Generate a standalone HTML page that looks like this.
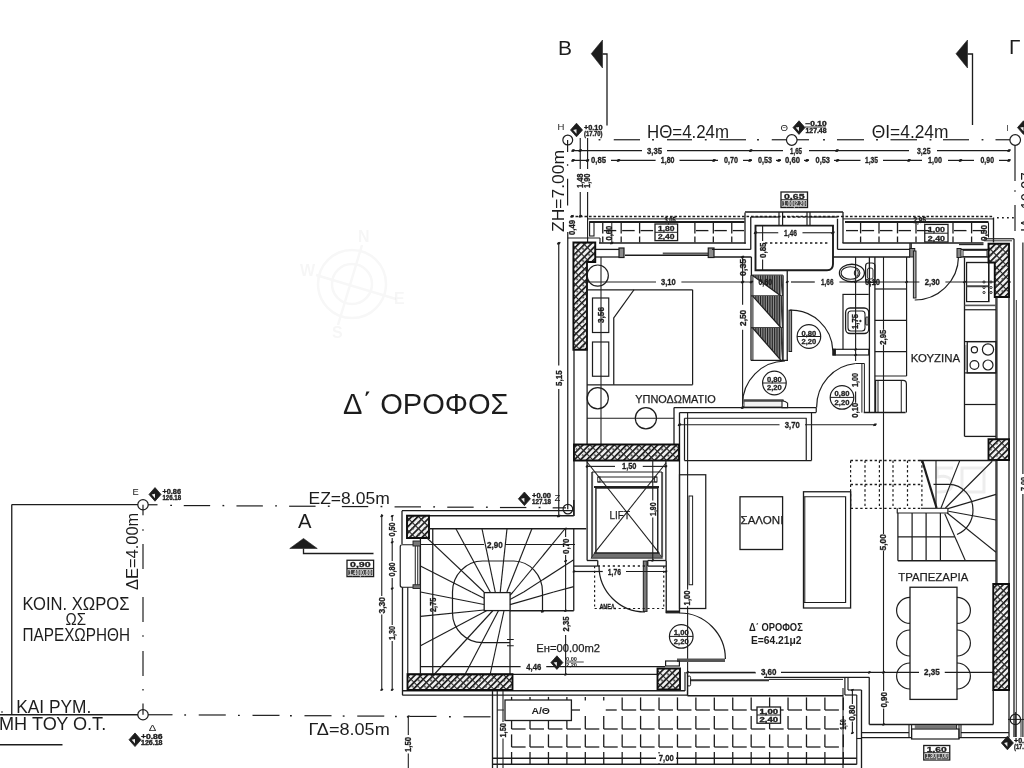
<!DOCTYPE html>
<html lang="el"><head><meta charset="utf-8"><title>Δ΄ ΟΡΟΦΟΣ</title>
<style>
html,body{margin:0;padding:0;background:#fff;}
body{width:1024px;height:768px;overflow:hidden;}
svg{display:block;font-family:"Liberation Sans","DejaVu Sans",sans-serif;}
</style></head><body>
<svg width="1024" height="768" viewBox="0 0 1024 768">
<defs>
<pattern id="hp" width="4.4" height="4.4" patternUnits="userSpaceOnUse" patternTransform="rotate(-45)">
<rect width="4.4" height="4.4" fill="#f0f0f0"/>
<rect width="4.4" height="1.65" fill="#151515"/>
</pattern>
<pattern id="hp2" width="8.6" height="8.6" patternUnits="userSpaceOnUse" patternTransform="rotate(45)">
<rect width="8.6" height="1.1" fill="#2a2a2a"/>
<rect x="2" y="3.6" width="2.6" height="1.6" fill="#444"/>
</pattern>
<filter id="soft" x="0" y="0" width="100%" height="100%"><feGaussianBlur stdDeviation="0.6"/></filter>
</defs>
<rect width="1024" height="768" fill="#fff"/>
<g filter="url(#soft)">
<polygon points="591.25,53.75 602.50,40.00 602.50,68.00" fill="#1e1e1e" stroke="#1e1e1e" stroke-width="0.6" />
<polyline points="602.50,54.00 607.00,54.00 607.00,125.60" fill="none" stroke="#1e1e1e" stroke-width="1.3" />
<polygon points="956.00,53.75 967.50,40.00 967.50,68.00" fill="#1e1e1e" stroke="#1e1e1e" stroke-width="0.6" />
<polyline points="967.50,54.00 972.50,54.00 972.50,125.00" fill="none" stroke="#1e1e1e" stroke-width="1.3" />
<text x="558.00" y="55.00" font-size="19.5" textLength="14.00" lengthAdjust="spacingAndGlyphs" fill="#1e1e1e" >B</text>
<text x="1009.00" y="53.75" font-size="20.5" textLength="11.50" lengthAdjust="spacingAndGlyphs" fill="#1e1e1e" >Γ</text>
<polygon points="289.75,548.50 303.50,538.50 317.25,548.50" fill="#1e1e1e" stroke="#1e1e1e" stroke-width="0.6" />
<polyline points="303.50,548.50 303.50,553.50 373.50,553.50" fill="none" stroke="#1e1e1e" stroke-width="1.3" />
<text x="298.00" y="527.75" font-size="21" textLength="13.50" lengthAdjust="spacingAndGlyphs" fill="#1e1e1e" >A</text>
<line x1="613.75" y1="139.75" x2="640.00" y2="139.75" stroke="#1e1e1e" stroke-width="1.2" />
<line x1="667.00" y1="139.75" x2="692.00" y2="139.75" stroke="#1e1e1e" stroke-width="1.2" />
<line x1="719.50" y1="139.75" x2="746.00" y2="139.75" stroke="#1e1e1e" stroke-width="1.2" />
<line x1="771.75" y1="139.75" x2="786.50" y2="139.75" stroke="#1e1e1e" stroke-width="1.2" />
<line x1="797.00" y1="139.75" x2="809.00" y2="139.75" stroke="#1e1e1e" stroke-width="1.2" />
<line x1="837.00" y1="139.75" x2="864.00" y2="139.75" stroke="#1e1e1e" stroke-width="1.2" />
<line x1="890.50" y1="139.75" x2="917.00" y2="139.75" stroke="#1e1e1e" stroke-width="1.2" />
<line x1="943.00" y1="139.75" x2="969.00" y2="139.75" stroke="#1e1e1e" stroke-width="1.2" />
<line x1="995.50" y1="139.75" x2="1010.00" y2="139.75" stroke="#1e1e1e" stroke-width="1.2" />
<line x1="598.60" y1="139.75" x2="600.40" y2="139.75" stroke="#1e1e1e" stroke-width="1.4" />
<line x1="652.10" y1="139.75" x2="653.90" y2="139.75" stroke="#1e1e1e" stroke-width="1.4" />
<line x1="704.85" y1="139.75" x2="706.65" y2="139.75" stroke="#1e1e1e" stroke-width="1.4" />
<line x1="757.10" y1="139.75" x2="758.90" y2="139.75" stroke="#1e1e1e" stroke-width="1.4" />
<line x1="823.10" y1="139.75" x2="824.90" y2="139.75" stroke="#1e1e1e" stroke-width="1.4" />
<line x1="876.10" y1="139.75" x2="877.90" y2="139.75" stroke="#1e1e1e" stroke-width="1.4" />
<line x1="929.60" y1="139.75" x2="931.40" y2="139.75" stroke="#1e1e1e" stroke-width="1.4" />
<line x1="981.60" y1="139.75" x2="983.40" y2="139.75" stroke="#1e1e1e" stroke-width="1.4" />
<circle cx="567.75" cy="140.00" r="4.90" fill="none" stroke="#1e1e1e" stroke-width="1.2"/>
<circle cx="791.75" cy="140.00" r="5.30" fill="none" stroke="#1e1e1e" stroke-width="1.2"/>
<circle cx="1015.20" cy="140.00" r="5.30" fill="none" stroke="#1e1e1e" stroke-width="1.2"/>
<text x="647.00" y="137.60" font-size="17.6" textLength="82.00" lengthAdjust="spacingAndGlyphs" fill="#1e1e1e" >HΘ=4.24m</text>
<text x="871.75" y="137.60" font-size="17.6" textLength="76.75" lengthAdjust="spacingAndGlyphs" fill="#1e1e1e" >ΘI=4.24m</text>
<text x="557.50" y="130.20" font-size="9.8" textLength="6.90" lengthAdjust="spacingAndGlyphs" fill="#1e1e1e" >H</text>
<text x="780.50" y="130.60" font-size="9.8" textLength="7.50" lengthAdjust="spacingAndGlyphs" fill="#1e1e1e" >Θ</text>
<text x="1006.60" y="130.80" font-size="9.8" textLength="2.20" lengthAdjust="spacingAndGlyphs" fill="#1e1e1e" >I</text>
<polygon points="570.50,130.00 576.50,123.20 582.50,130.00 576.50,136.80" fill="#1e1e1e" stroke="#1e1e1e" stroke-width="0.8" />
<polygon points="573.20,130.00 576.50,129.32 576.50,133.74" fill="#eee" stroke="none" stroke-width="0" />
<polygon points="793.00,127.60 799.00,120.80 805.00,127.60 799.00,134.40" fill="#1e1e1e" stroke="#1e1e1e" stroke-width="0.8" />
<polygon points="795.70,127.60 799.00,126.92 799.00,131.34" fill="#eee" stroke="none" stroke-width="0" />
<polygon points="1017.50,127.60 1023.50,120.80 1029.50,127.60 1023.50,134.40" fill="#1e1e1e" stroke="#1e1e1e" stroke-width="0.8" />
<polygon points="1020.20,127.60 1023.50,126.92 1023.50,131.34" fill="#eee" stroke="none" stroke-width="0" />
<text x="584.00" y="129.60" font-size="6.3" textLength="18.50" lengthAdjust="spacingAndGlyphs" fill="#1e1e1e" font-weight="bold" stroke="#1e1e1e" stroke-width="0.35">+0.10</text>
<text x="584.00" y="136.40" font-size="6.3" textLength="18.50" lengthAdjust="spacingAndGlyphs" fill="#1e1e1e" font-weight="bold" stroke="#1e1e1e" stroke-width="0.35">(17.70)</text>
<text x="805.50" y="126.40" font-size="6.3" textLength="21.00" lengthAdjust="spacingAndGlyphs" fill="#1e1e1e" font-weight="bold" stroke="#1e1e1e" stroke-width="0.35">−0.10</text>
<text x="805.50" y="132.60" font-size="6.3" textLength="21.00" lengthAdjust="spacingAndGlyphs" fill="#1e1e1e" font-weight="bold" stroke="#1e1e1e" stroke-width="0.35">127.48</text>
<line x1="805.00" y1="127.00" x2="826.00" y2="127.00" stroke="#1e1e1e" stroke-width="0.8" />
<line x1="573.00" y1="150.60" x2="642.00" y2="150.60" stroke="#1e1e1e" stroke-width="1.25" />
<line x1="667.00" y1="150.60" x2="783.00" y2="150.60" stroke="#1e1e1e" stroke-width="1.25" />
<line x1="809.00" y1="150.60" x2="909.00" y2="150.60" stroke="#1e1e1e" stroke-width="1.25" />
<line x1="937.00" y1="150.60" x2="1009.00" y2="150.60" stroke="#1e1e1e" stroke-width="1.25" />
<circle cx="573.00" cy="150.60" r="1.30" fill="#1e1e1e"/>
<line x1="571.40" y1="151.56" x2="574.60" y2="149.64" stroke="#1e1e1e" stroke-width="1.3" />
<circle cx="750.75" cy="150.60" r="1.30" fill="#1e1e1e"/>
<line x1="749.15" y1="151.56" x2="752.35" y2="149.64" stroke="#1e1e1e" stroke-width="1.3" />
<circle cx="837.00" cy="150.60" r="1.30" fill="#1e1e1e"/>
<line x1="835.40" y1="151.56" x2="838.60" y2="149.64" stroke="#1e1e1e" stroke-width="1.3" />
<circle cx="1009.00" cy="150.60" r="1.30" fill="#1e1e1e"/>
<line x1="1007.40" y1="151.56" x2="1010.60" y2="149.64" stroke="#1e1e1e" stroke-width="1.3" />
<text x="647.00" y="153.60" font-size="8.5" textLength="15.00" lengthAdjust="spacingAndGlyphs" fill="#1e1e1e" font-weight="bold" stroke="#1e1e1e" stroke-width="0.3">3,35</text>
<text x="790.00" y="153.60" font-size="8.5" textLength="12.00" lengthAdjust="spacingAndGlyphs" fill="#1e1e1e" font-weight="bold" stroke="#1e1e1e" stroke-width="0.3">1,65</text>
<text x="917.00" y="153.60" font-size="8.5" textLength="13.50" lengthAdjust="spacingAndGlyphs" fill="#1e1e1e" font-weight="bold" stroke="#1e1e1e" stroke-width="0.3">3,25</text>
<line x1="573.00" y1="160.40" x2="588.00" y2="160.40" stroke="#1e1e1e" stroke-width="1.25" />
<line x1="611.00" y1="160.40" x2="655.60" y2="160.40" stroke="#1e1e1e" stroke-width="1.25" />
<line x1="679.50" y1="160.40" x2="718.00" y2="160.40" stroke="#1e1e1e" stroke-width="1.25" />
<line x1="743.00" y1="160.40" x2="752.00" y2="160.40" stroke="#1e1e1e" stroke-width="1.25" />
<line x1="776.00" y1="160.40" x2="781.00" y2="160.40" stroke="#1e1e1e" stroke-width="1.25" />
<line x1="804.00" y1="160.40" x2="809.00" y2="160.40" stroke="#1e1e1e" stroke-width="1.25" />
<line x1="834.00" y1="160.40" x2="860.50" y2="160.40" stroke="#1e1e1e" stroke-width="1.25" />
<line x1="883.00" y1="160.40" x2="922.00" y2="160.40" stroke="#1e1e1e" stroke-width="1.25" />
<line x1="948.00" y1="160.40" x2="974.00" y2="160.40" stroke="#1e1e1e" stroke-width="1.25" />
<line x1="999.00" y1="160.40" x2="1009.00" y2="160.40" stroke="#1e1e1e" stroke-width="1.25" />
<circle cx="573.00" cy="160.40" r="1.30" fill="#1e1e1e"/>
<line x1="571.40" y1="161.36" x2="574.60" y2="159.44" stroke="#1e1e1e" stroke-width="1.3" />
<circle cx="618.50" cy="160.40" r="1.30" fill="#1e1e1e"/>
<line x1="616.90" y1="161.36" x2="620.10" y2="159.44" stroke="#1e1e1e" stroke-width="1.3" />
<circle cx="714.00" cy="160.40" r="1.30" fill="#1e1e1e"/>
<line x1="712.40" y1="161.36" x2="715.60" y2="159.44" stroke="#1e1e1e" stroke-width="1.3" />
<circle cx="750.00" cy="160.40" r="1.30" fill="#1e1e1e"/>
<line x1="748.40" y1="161.36" x2="751.60" y2="159.44" stroke="#1e1e1e" stroke-width="1.3" />
<circle cx="779.00" cy="160.40" r="1.30" fill="#1e1e1e"/>
<line x1="777.40" y1="161.36" x2="780.60" y2="159.44" stroke="#1e1e1e" stroke-width="1.3" />
<circle cx="807.00" cy="160.40" r="1.30" fill="#1e1e1e"/>
<line x1="805.40" y1="161.36" x2="808.60" y2="159.44" stroke="#1e1e1e" stroke-width="1.3" />
<circle cx="837.50" cy="160.40" r="1.30" fill="#1e1e1e"/>
<line x1="835.90" y1="161.36" x2="839.10" y2="159.44" stroke="#1e1e1e" stroke-width="1.3" />
<circle cx="909.00" cy="160.40" r="1.30" fill="#1e1e1e"/>
<line x1="907.40" y1="161.36" x2="910.60" y2="159.44" stroke="#1e1e1e" stroke-width="1.3" />
<circle cx="960.50" cy="160.40" r="1.30" fill="#1e1e1e"/>
<line x1="958.90" y1="161.36" x2="962.10" y2="159.44" stroke="#1e1e1e" stroke-width="1.3" />
<circle cx="1009.00" cy="160.40" r="1.30" fill="#1e1e1e"/>
<line x1="1007.40" y1="161.36" x2="1010.60" y2="159.44" stroke="#1e1e1e" stroke-width="1.3" />
<text x="591.00" y="163.40" font-size="8.5" textLength="15.00" lengthAdjust="spacingAndGlyphs" fill="#1e1e1e" font-weight="bold" stroke="#1e1e1e" stroke-width="0.3">0,85</text>
<text x="660.75" y="163.40" font-size="8.5" textLength="13.75" lengthAdjust="spacingAndGlyphs" fill="#1e1e1e" font-weight="bold" stroke="#1e1e1e" stroke-width="0.3">1,80</text>
<text x="724.00" y="163.40" font-size="8.5" textLength="14.00" lengthAdjust="spacingAndGlyphs" fill="#1e1e1e" font-weight="bold" stroke="#1e1e1e" stroke-width="0.3">0,70</text>
<text x="758.00" y="163.40" font-size="8.5" textLength="14.00" lengthAdjust="spacingAndGlyphs" fill="#1e1e1e" font-weight="bold" stroke="#1e1e1e" stroke-width="0.3">0,53</text>
<text x="785.00" y="163.40" font-size="8.5" textLength="15.00" lengthAdjust="spacingAndGlyphs" fill="#1e1e1e" font-weight="bold" stroke="#1e1e1e" stroke-width="0.3">0,60</text>
<text x="815.50" y="163.40" font-size="8.5" textLength="14.50" lengthAdjust="spacingAndGlyphs" fill="#1e1e1e" font-weight="bold" stroke="#1e1e1e" stroke-width="0.3">0,53</text>
<text x="865.00" y="163.40" font-size="8.5" textLength="13.00" lengthAdjust="spacingAndGlyphs" fill="#1e1e1e" font-weight="bold" stroke="#1e1e1e" stroke-width="0.3">1,35</text>
<text x="928.00" y="163.40" font-size="8.5" textLength="14.00" lengthAdjust="spacingAndGlyphs" fill="#1e1e1e" font-weight="bold" stroke="#1e1e1e" stroke-width="0.3">1,00</text>
<text x="980.50" y="163.40" font-size="8.5" textLength="13.50" lengthAdjust="spacingAndGlyphs" fill="#1e1e1e" font-weight="bold" stroke="#1e1e1e" stroke-width="0.3">0,90</text>
<line x1="567.60" y1="140.00" x2="567.60" y2="152.00" stroke="#1e1e1e" stroke-width="1.2" />
<line x1="567.60" y1="164.20" x2="567.60" y2="165.80" stroke="#1e1e1e" stroke-width="1.3" />
<line x1="567.60" y1="178.75" x2="567.60" y2="205.60" stroke="#1e1e1e" stroke-width="1.2" />
<text transform="translate(564.00,232.00) rotate(-90)" font-size="15.6" textLength="82.00" lengthAdjust="spacingAndGlyphs" fill="#1e1e1e">ZH=7.00m</text>
<line x1="580.25" y1="138.00" x2="580.25" y2="169.00" stroke="#1e1e1e" stroke-width="1.15" />
<line x1="580.25" y1="192.00" x2="580.25" y2="216.25" stroke="#1e1e1e" stroke-width="1.15" />
<line x1="587.60" y1="138.00" x2="587.60" y2="169.00" stroke="#1e1e1e" stroke-width="1.15" />
<line x1="587.60" y1="192.00" x2="587.60" y2="242.50" stroke="#1e1e1e" stroke-width="1.15" />
<text transform="translate(583.00,188.00) rotate(-90)" font-size="8.5" textLength="14.50" lengthAdjust="spacingAndGlyphs" fill="#1e1e1e" font-weight="bold" stroke="#1e1e1e" stroke-width="0.3">1,48</text>
<text transform="translate(589.60,188.00) rotate(-90)" font-size="8.5" textLength="14.50" lengthAdjust="spacingAndGlyphs" fill="#1e1e1e" font-weight="bold" stroke="#1e1e1e" stroke-width="0.3">1,90</text>
<circle cx="580.25" cy="150.60" r="1.30" fill="#1e1e1e"/>
<line x1="578.65" y1="151.56" x2="581.85" y2="149.64" stroke="#1e1e1e" stroke-width="1.3" />
<circle cx="587.60" cy="160.40" r="1.30" fill="#1e1e1e"/>
<line x1="586.00" y1="161.36" x2="589.20" y2="159.44" stroke="#1e1e1e" stroke-width="1.3" />
<line x1="1015.00" y1="145.00" x2="1015.00" y2="181.00" stroke="#1e1e1e" stroke-width="1.2" />
<line x1="1015.00" y1="190.20" x2="1015.00" y2="191.80" stroke="#1e1e1e" stroke-width="1.3" />
<line x1="1015.00" y1="205.00" x2="1015.00" y2="231.00" stroke="#1e1e1e" stroke-width="1.2" />
<text transform="translate(1033.20,232.00) rotate(-90)" font-size="15.6" textLength="72.00" lengthAdjust="spacingAndGlyphs" fill="#1e1e1e">ΙΑ=10.97m</text>
<line x1="571.00" y1="216.50" x2="994.00" y2="216.50" stroke="#1e1e1e" stroke-width="1.5" stroke-dasharray="2.6 1.9"/>
<line x1="997.00" y1="217.80" x2="1015.00" y2="217.80" stroke="#1e1e1e" stroke-width="1.4" stroke-dasharray="1.8 3.2"/>
<circle cx="572.00" cy="216.30" r="1.30" fill="#1e1e1e"/>
<line x1="570.40" y1="217.26" x2="573.60" y2="215.34" stroke="#1e1e1e" stroke-width="1.3" />
<circle cx="580.25" cy="216.30" r="1.30" fill="#1e1e1e"/>
<line x1="578.65" y1="217.26" x2="581.85" y2="215.34" stroke="#1e1e1e" stroke-width="1.3" />
<text transform="translate(574.80,235.00) rotate(-90)" font-size="8.5" textLength="15.00" lengthAdjust="spacingAndGlyphs" fill="#1e1e1e" font-weight="bold" stroke="#1e1e1e" stroke-width="0.3">0,49</text>
<line x1="587.75" y1="218.90" x2="745.00" y2="218.90" stroke="#1e1e1e" stroke-width="1.0" />
<line x1="589.60" y1="221.90" x2="744.50" y2="221.90" stroke="#1e1e1e" stroke-width="2.0" />
<rect x="589.60" y="221.75" width="4.40" height="14.25" rx="0" fill="none" stroke="#1e1e1e" stroke-width="1.1" />
<line x1="599.00" y1="243.00" x2="745.75" y2="243.00" stroke="#1e1e1e" stroke-width="1.7" />
<line x1="745.00" y1="212.50" x2="745.00" y2="243.75" stroke="#1e1e1e" stroke-width="1.3" />
<line x1="602.75" y1="222.50" x2="602.75" y2="233.40" stroke="#1e1e1e" stroke-width="1.3" />
<line x1="602.75" y1="236.50" x2="602.75" y2="242.50" stroke="#1e1e1e" stroke-width="1.3" />
<line x1="603.75" y1="230.60" x2="616.25" y2="230.60" stroke="#1e1e1e" stroke-width="1.3" />
<line x1="621.18" y1="222.50" x2="621.18" y2="233.40" stroke="#1e1e1e" stroke-width="1.3" />
<line x1="621.18" y1="236.50" x2="621.18" y2="242.50" stroke="#1e1e1e" stroke-width="1.3" />
<line x1="622.18" y1="230.60" x2="634.68" y2="230.60" stroke="#1e1e1e" stroke-width="1.3" />
<line x1="639.61" y1="222.50" x2="639.61" y2="233.40" stroke="#1e1e1e" stroke-width="1.3" />
<line x1="639.61" y1="236.50" x2="639.61" y2="242.50" stroke="#1e1e1e" stroke-width="1.3" />
<line x1="640.61" y1="230.60" x2="653.11" y2="230.60" stroke="#1e1e1e" stroke-width="1.3" />
<line x1="694.90" y1="222.50" x2="694.90" y2="233.40" stroke="#1e1e1e" stroke-width="1.3" />
<line x1="694.90" y1="236.50" x2="694.90" y2="242.50" stroke="#1e1e1e" stroke-width="1.3" />
<line x1="695.90" y1="230.60" x2="708.40" y2="230.60" stroke="#1e1e1e" stroke-width="1.3" />
<line x1="713.33" y1="222.50" x2="713.33" y2="233.40" stroke="#1e1e1e" stroke-width="1.3" />
<line x1="713.33" y1="236.50" x2="713.33" y2="242.50" stroke="#1e1e1e" stroke-width="1.3" />
<line x1="714.33" y1="230.60" x2="726.83" y2="230.60" stroke="#1e1e1e" stroke-width="1.3" />
<line x1="731.76" y1="222.50" x2="731.76" y2="233.40" stroke="#1e1e1e" stroke-width="1.3" />
<line x1="731.76" y1="236.50" x2="731.76" y2="242.50" stroke="#1e1e1e" stroke-width="1.3" />
<line x1="732.76" y1="230.60" x2="744.00" y2="230.60" stroke="#1e1e1e" stroke-width="1.3" />
<rect x="655.00" y="224.00" width="22.60" height="16.60" rx="0" fill="none" stroke="#1e1e1e" stroke-width="1.3" />
<line x1="655.00" y1="232.30" x2="677.60" y2="232.30" stroke="#1e1e1e" stroke-width="1.0" />
<text x="658.00" y="231.20" font-size="7.4" textLength="16.60" lengthAdjust="spacingAndGlyphs" fill="#1e1e1e" font-weight="bold" stroke="#1e1e1e" stroke-width="0.3">1,80</text>
<text x="658.00" y="239.20" font-size="7.4" textLength="16.60" lengthAdjust="spacingAndGlyphs" fill="#1e1e1e" font-weight="bold" stroke="#1e1e1e" stroke-width="0.3">2,40</text>
<text x="664.50" y="222.50" font-size="8.5" textLength="11.25" lengthAdjust="spacingAndGlyphs" fill="#1e1e1e" font-weight="bold" stroke="#1e1e1e" stroke-width="0.3">3,05</text>
<text transform="translate(612.00,240.60) rotate(-90)" font-size="8.5" textLength="15.00" lengthAdjust="spacingAndGlyphs" fill="#1e1e1e" font-weight="bold" stroke="#1e1e1e" stroke-width="0.3">0,60</text>
<line x1="611.80" y1="222.50" x2="611.80" y2="243.00" stroke="#1e1e1e" stroke-width="1.0" />
<circle cx="611.80" cy="243.00" r="1.30" fill="#1e1e1e"/>
<line x1="610.20" y1="243.96" x2="613.40" y2="242.04" stroke="#1e1e1e" stroke-width="1.3" />
<line x1="745.00" y1="212.00" x2="843.00" y2="212.00" stroke="#1e1e1e" stroke-width="1.3" />
<line x1="750.75" y1="217.00" x2="750.75" y2="249.40" stroke="#1e1e1e" stroke-width="1.3" />
<line x1="750.75" y1="217.00" x2="779.50" y2="217.00" stroke="#1e1e1e" stroke-width="1.3" />
<line x1="782.60" y1="217.00" x2="807.00" y2="217.00" stroke="#1e1e1e" stroke-width="1.3" stroke-dasharray="3 2"/>
<line x1="807.50" y1="217.00" x2="837.50" y2="217.00" stroke="#1e1e1e" stroke-width="1.3" />
<line x1="779.00" y1="212.00" x2="779.00" y2="225.60" stroke="#1e1e1e" stroke-width="1.2" />
<line x1="782.60" y1="212.00" x2="782.60" y2="225.60" stroke="#1e1e1e" stroke-width="1.2" />
<line x1="807.00" y1="212.00" x2="807.00" y2="225.60" stroke="#1e1e1e" stroke-width="1.2" />
<line x1="810.00" y1="212.00" x2="810.00" y2="225.60" stroke="#1e1e1e" stroke-width="1.2" />
<line x1="837.50" y1="218.75" x2="837.50" y2="249.40" stroke="#1e1e1e" stroke-width="1.3" />
<line x1="843.00" y1="212.00" x2="843.00" y2="243.00" stroke="#1e1e1e" stroke-width="1.3" />
<rect x="781.00" y="192.00" width="26.50" height="15.50" rx="0" fill="none" stroke="#1e1e1e" stroke-width="1.3" />
<line x1="781.00" y1="199.75" x2="807.50" y2="199.75" stroke="#1e1e1e" stroke-width="1.0" />
<text x="784.00" y="198.65" font-size="7.4" textLength="20.50" lengthAdjust="spacingAndGlyphs" fill="#1e1e1e" font-weight="bold" stroke="#1e1e1e" stroke-width="0.3">0,65</text>
<rect x="782.20" y="200.95" width="24.10" height="5.35" rx="0" fill="#444" stroke="none" stroke-width="0" />
<text x="783.00" y="205.90" font-size="6.4" textLength="22.50" lengthAdjust="spacingAndGlyphs" fill="#ddd" font-weight="bold" >1,00|2,20</text>
<line x1="843.00" y1="218.90" x2="993.50" y2="218.90" stroke="#1e1e1e" stroke-width="1.0" />
<line x1="845.00" y1="222.00" x2="988.50" y2="222.00" stroke="#1e1e1e" stroke-width="2.0" />
<line x1="993.50" y1="217.50" x2="993.50" y2="242.50" stroke="#1e1e1e" stroke-width="1.3" />
<line x1="988.50" y1="222.50" x2="988.50" y2="237.50" stroke="#1e1e1e" stroke-width="1.1" />
<line x1="860.60" y1="222.50" x2="860.60" y2="233.40" stroke="#1e1e1e" stroke-width="1.3" />
<line x1="860.60" y1="236.50" x2="860.60" y2="242.50" stroke="#1e1e1e" stroke-width="1.3" />
<line x1="861.60" y1="230.60" x2="874.10" y2="230.60" stroke="#1e1e1e" stroke-width="1.3" />
<line x1="879.00" y1="222.50" x2="879.00" y2="233.40" stroke="#1e1e1e" stroke-width="1.3" />
<line x1="879.00" y1="236.50" x2="879.00" y2="242.50" stroke="#1e1e1e" stroke-width="1.3" />
<line x1="880.00" y1="230.60" x2="892.50" y2="230.60" stroke="#1e1e1e" stroke-width="1.3" />
<line x1="897.50" y1="222.50" x2="897.50" y2="233.40" stroke="#1e1e1e" stroke-width="1.3" />
<line x1="897.50" y1="236.50" x2="897.50" y2="242.50" stroke="#1e1e1e" stroke-width="1.3" />
<line x1="898.50" y1="230.60" x2="911.00" y2="230.60" stroke="#1e1e1e" stroke-width="1.3" />
<line x1="916.00" y1="222.50" x2="916.00" y2="233.40" stroke="#1e1e1e" stroke-width="1.3" />
<line x1="916.00" y1="236.50" x2="916.00" y2="242.50" stroke="#1e1e1e" stroke-width="1.3" />
<line x1="917.00" y1="230.60" x2="929.50" y2="230.60" stroke="#1e1e1e" stroke-width="1.3" />
<line x1="953.00" y1="222.50" x2="953.00" y2="233.40" stroke="#1e1e1e" stroke-width="1.3" />
<line x1="953.00" y1="236.50" x2="953.00" y2="242.50" stroke="#1e1e1e" stroke-width="1.3" />
<line x1="954.00" y1="230.60" x2="966.50" y2="230.60" stroke="#1e1e1e" stroke-width="1.3" />
<line x1="971.60" y1="222.50" x2="971.60" y2="233.40" stroke="#1e1e1e" stroke-width="1.3" />
<line x1="971.60" y1="236.50" x2="971.60" y2="242.50" stroke="#1e1e1e" stroke-width="1.3" />
<line x1="972.60" y1="230.60" x2="985.10" y2="230.60" stroke="#1e1e1e" stroke-width="1.3" />
<line x1="846.00" y1="230.60" x2="858.00" y2="230.60" stroke="#1e1e1e" stroke-width="1.3" />
<rect x="924.75" y="224.40" width="23.25" height="17.60" rx="0" fill="none" stroke="#1e1e1e" stroke-width="1.3" />
<line x1="924.75" y1="233.20" x2="948.00" y2="233.20" stroke="#1e1e1e" stroke-width="1.0" />
<text x="927.75" y="232.10" font-size="7.4" textLength="17.25" lengthAdjust="spacingAndGlyphs" fill="#1e1e1e" font-weight="bold" stroke="#1e1e1e" stroke-width="0.3">1,00</text>
<text x="927.75" y="240.60" font-size="7.4" textLength="17.25" lengthAdjust="spacingAndGlyphs" fill="#1e1e1e" font-weight="bold" stroke="#1e1e1e" stroke-width="0.3">2,40</text>
<line x1="842.50" y1="243.00" x2="983.50" y2="243.00" stroke="#1e1e1e" stroke-width="1.7" />
<text x="913.50" y="222.80" font-size="8.5" textLength="12.50" lengthAdjust="spacingAndGlyphs" fill="#1e1e1e" font-weight="bold" stroke="#1e1e1e" stroke-width="0.3">2,95</text>
<text transform="translate(986.50,241.00) rotate(-90)" font-size="8.5" textLength="16.00" lengthAdjust="spacingAndGlyphs" fill="#1e1e1e" font-weight="bold" stroke="#1e1e1e" stroke-width="0.3">0,50</text>
<line x1="567.75" y1="238.00" x2="600.00" y2="238.00" stroke="#1e1e1e" stroke-width="1.2" />
<line x1="600.00" y1="238.00" x2="600.00" y2="243.00" stroke="#1e1e1e" stroke-width="1.15" />
<clipPath id="hc1"><polygon points="573.40,242.50 595.25,242.50 595.25,262.00 587.00,262.00 587.00,349.75 573.40,349.75"/></clipPath>
<polygon points="573.40,242.50 595.25,242.50 595.25,262.00 587.00,262.00 587.00,349.75 573.40,349.75" fill="url(#hp)" stroke="none"/>
<polygon points="573.40,242.50 595.25,242.50 595.25,262.00 587.00,262.00 587.00,349.75 573.40,349.75" fill="url(#hp2)" stroke="none"/>
<polygon points="573.40,242.50 595.25,242.50 595.25,262.00 587.00,262.00 587.00,349.75 573.40,349.75" fill="none" stroke="#111" stroke-width="1.9"/>
<line x1="596.00" y1="249.40" x2="619.00" y2="249.40" stroke="#1e1e1e" stroke-width="1.3" />
<line x1="596.00" y1="257.00" x2="624.00" y2="257.00" stroke="#1e1e1e" stroke-width="1.3" />
<rect x="619.00" y="248.00" width="5.00" height="9.50" rx="0" fill="#8c8c8c" stroke="#1e1e1e" stroke-width="1.2" />
<line x1="625.00" y1="255.20" x2="708.00" y2="255.20" stroke="#1e1e1e" stroke-width="1.6" />
<line x1="662.75" y1="253.40" x2="708.00" y2="253.40" stroke="#555" stroke-width="2.0" />
<rect x="708.25" y="248.00" width="5.75" height="9.50" rx="0" fill="#8c8c8c" stroke="#1e1e1e" stroke-width="1.2" />
<line x1="712.00" y1="249.40" x2="750.75" y2="249.40" stroke="#1e1e1e" stroke-width="1.3" />
<line x1="714.00" y1="257.00" x2="751.40" y2="257.00" stroke="#1e1e1e" stroke-width="1.3" />
<line x1="837.50" y1="249.40" x2="910.00" y2="249.40" stroke="#1e1e1e" stroke-width="1.3" />
<line x1="833.00" y1="257.00" x2="910.00" y2="257.00" stroke="#1e1e1e" stroke-width="1.3" />
<line x1="910.00" y1="243.00" x2="910.00" y2="257.00" stroke="#1e1e1e" stroke-width="1.3" />
<rect x="909.75" y="248.50" width="5.00" height="8.50" rx="0" fill="#888" stroke="#1e1e1e" stroke-width="1.0" />
<rect x="957.00" y="248.50" width="4.00" height="9.00" rx="0" fill="#888" stroke="#1e1e1e" stroke-width="1.0" />
<line x1="961.00" y1="249.40" x2="988.00" y2="249.40" stroke="#1e1e1e" stroke-width="1.3" />
<line x1="961.00" y1="257.00" x2="988.00" y2="257.00" stroke="#1e1e1e" stroke-width="1.3" />
<rect x="963.00" y="250.40" width="24.00" height="6.20" rx="0" fill="none" stroke="#1e1e1e" stroke-width="0.9" />
<line x1="959.00" y1="244.60" x2="983.50" y2="244.60" stroke="#1e1e1e" stroke-width="1.1" />
<line x1="911.25" y1="243.00" x2="911.25" y2="249.00" stroke="#1e1e1e" stroke-width="1.2" />
<line x1="567.75" y1="232.00" x2="567.75" y2="509.25" stroke="#1e1e1e" stroke-width="1.25" />
<line x1="574.00" y1="349.75" x2="574.00" y2="516.00" stroke="#1e1e1e" stroke-width="1.3" />
<line x1="587.10" y1="262.00" x2="587.10" y2="560.50" stroke="#1e1e1e" stroke-width="1.3" />
<line x1="558.75" y1="243.25" x2="558.75" y2="365.40" stroke="#1e1e1e" stroke-width="1.2" />
<line x1="558.75" y1="389.00" x2="558.75" y2="516.60" stroke="#1e1e1e" stroke-width="1.2" />
<circle cx="558.75" cy="243.25" r="1.30" fill="#1e1e1e"/>
<line x1="557.15" y1="244.21" x2="560.35" y2="242.29" stroke="#1e1e1e" stroke-width="1.3" />
<circle cx="558.75" cy="516.00" r="1.30" fill="#1e1e1e"/>
<line x1="557.15" y1="516.96" x2="560.35" y2="515.04" stroke="#1e1e1e" stroke-width="1.3" />
<text transform="translate(561.50,386.00) rotate(-90)" font-size="8.5" textLength="15.60" lengthAdjust="spacingAndGlyphs" fill="#1e1e1e" font-weight="bold" stroke="#1e1e1e" stroke-width="0.3">5,15</text>
<circle cx="597.75" cy="275.60" r="10.60" fill="none" stroke="#1e1e1e" stroke-width="1.2"/>
<line x1="601.00" y1="257.00" x2="601.00" y2="444.50" stroke="#1e1e1e" stroke-width="1.1" />
<line x1="587.00" y1="282.00" x2="656.00" y2="282.00" stroke="#1e1e1e" stroke-width="1.2" />
<line x1="681.40" y1="282.00" x2="751.40" y2="282.00" stroke="#1e1e1e" stroke-width="1.2" />
<text x="661.00" y="285.00" font-size="8.5" textLength="14.75" lengthAdjust="spacingAndGlyphs" fill="#1e1e1e" font-weight="bold" stroke="#1e1e1e" stroke-width="0.3">3,10</text>
<circle cx="587.00" cy="282.00" r="1.30" fill="#1e1e1e"/>
<line x1="585.40" y1="282.96" x2="588.60" y2="281.04" stroke="#1e1e1e" stroke-width="1.3" />
<circle cx="751.40" cy="282.00" r="1.30" fill="#1e1e1e"/>
<line x1="749.80" y1="282.96" x2="753.00" y2="281.04" stroke="#1e1e1e" stroke-width="1.3" />
<line x1="587.75" y1="289.75" x2="692.60" y2="289.75" stroke="#1e1e1e" stroke-width="1.25" />
<line x1="692.60" y1="289.75" x2="692.60" y2="384.75" stroke="#1e1e1e" stroke-width="1.25" />
<line x1="587.00" y1="384.75" x2="692.60" y2="384.75" stroke="#1e1e1e" stroke-width="1.25" />
<polyline points="634.00,289.75 613.75,318.00 613.75,384.75" fill="none" stroke="#1e1e1e" stroke-width="1.25" />
<rect x="592.50" y="298.00" width="16.25" height="34.50" rx="0" fill="none" stroke="#1e1e1e" stroke-width="1.2" />
<rect x="592.50" y="342.00" width="16.25" height="34.25" rx="0" fill="none" stroke="#1e1e1e" stroke-width="1.2" />
<text transform="translate(603.80,323.00) rotate(-90)" font-size="8.5" textLength="16.00" lengthAdjust="spacingAndGlyphs" fill="#1e1e1e" font-weight="bold" stroke="#1e1e1e" stroke-width="0.3">3,56</text>
<circle cx="597.75" cy="398.25" r="10.60" fill="none" stroke="#1e1e1e" stroke-width="1.2"/>
<circle cx="645.90" cy="418.25" r="10.60" fill="none" stroke="#1e1e1e" stroke-width="1.2"/>
<line x1="587.00" y1="418.25" x2="674.00" y2="418.25" stroke="#1e1e1e" stroke-width="1.2" />
<text x="635.25" y="403.40" font-size="10.6" textLength="80.50" lengthAdjust="spacingAndGlyphs" fill="#1e1e1e" stroke="#1e1e1e" stroke-width="0.25">ΥΠΝΟΔΩΜΑΤΙΟ</text>
<line x1="674.00" y1="407.60" x2="816.25" y2="407.60" stroke="#1e1e1e" stroke-width="1.3" />
<line x1="674.00" y1="407.60" x2="674.00" y2="445.75" stroke="#1e1e1e" stroke-width="1.3" />
<line x1="679.50" y1="412.60" x2="816.00" y2="412.60" stroke="#1e1e1e" stroke-width="1.3" />
<line x1="679.50" y1="412.60" x2="679.50" y2="612.90" stroke="#1e1e1e" stroke-width="1.3" />
<line x1="684.50" y1="418.25" x2="806.60" y2="418.25" stroke="#1e1e1e" stroke-width="1.2" />
<line x1="684.50" y1="418.25" x2="684.50" y2="460.50" stroke="#1e1e1e" stroke-width="1.2" />
<line x1="687.60" y1="412.60" x2="687.60" y2="695.00" stroke="#1e1e1e" stroke-width="1.1" />
<line x1="679.00" y1="424.75" x2="779.50" y2="424.75" stroke="#1e1e1e" stroke-width="1.2" />
<line x1="805.00" y1="424.75" x2="875.00" y2="424.75" stroke="#1e1e1e" stroke-width="1.2" />
<text x="784.75" y="427.75" font-size="8.5" textLength="15.00" lengthAdjust="spacingAndGlyphs" fill="#1e1e1e" font-weight="bold" stroke="#1e1e1e" stroke-width="0.3">3,70</text>
<circle cx="679.50" cy="424.75" r="1.30" fill="#1e1e1e"/>
<line x1="677.90" y1="425.71" x2="681.10" y2="423.79" stroke="#1e1e1e" stroke-width="1.3" />
<circle cx="875.00" cy="424.75" r="1.30" fill="#1e1e1e"/>
<line x1="873.40" y1="425.71" x2="876.60" y2="423.79" stroke="#1e1e1e" stroke-width="1.3" />
<line x1="684.50" y1="460.50" x2="811.50" y2="460.50" stroke="#1e1e1e" stroke-width="1.25" />
<line x1="806.25" y1="418.25" x2="806.25" y2="460.50" stroke="#1e1e1e" stroke-width="1.2" />
<line x1="811.50" y1="412.60" x2="811.50" y2="460.50" stroke="#1e1e1e" stroke-width="1.2" />
<line x1="816.25" y1="407.60" x2="816.25" y2="412.60" stroke="#1e1e1e" stroke-width="1.2" />
<line x1="742.60" y1="257.00" x2="742.60" y2="304.75" stroke="#1e1e1e" stroke-width="1.1" />
<line x1="742.60" y1="329.75" x2="742.60" y2="407.60" stroke="#1e1e1e" stroke-width="1.1" />
<circle cx="742.60" cy="257.00" r="1.30" fill="#1e1e1e"/>
<line x1="741.00" y1="257.96" x2="744.20" y2="256.04" stroke="#1e1e1e" stroke-width="1.3" />
<circle cx="742.60" cy="282.00" r="1.30" fill="#1e1e1e"/>
<line x1="741.00" y1="282.96" x2="744.20" y2="281.04" stroke="#1e1e1e" stroke-width="1.3" />
<circle cx="742.60" cy="407.60" r="1.30" fill="#1e1e1e"/>
<line x1="741.00" y1="408.56" x2="744.20" y2="406.64" stroke="#1e1e1e" stroke-width="1.3" />
<text transform="translate(745.60,276.00) rotate(-90)" font-size="8.5" textLength="17.25" lengthAdjust="spacingAndGlyphs" fill="#1e1e1e" font-weight="bold" stroke="#1e1e1e" stroke-width="0.3">0,35</text>
<text transform="translate(745.60,326.00) rotate(-90)" font-size="8.5" textLength="16.25" lengthAdjust="spacingAndGlyphs" fill="#1e1e1e" font-weight="bold" stroke="#1e1e1e" stroke-width="0.3">2,50</text>
<line x1="751.40" y1="257.00" x2="751.40" y2="275.25" stroke="#1e1e1e" stroke-width="1.3" />
<line x1="744.00" y1="400.80" x2="783.25" y2="400.80" stroke="#444" stroke-width="2.0" />
<rect x="744.00" y="400.00" width="39.25" height="7.00" rx="0" fill="#f2f2f2" stroke="#1e1e1e" stroke-width="0.8" />
<line x1="744.00" y1="400.80" x2="783.25" y2="400.80" stroke="#444" stroke-width="2.0" />
<path d="M782,401 v6.6 h5.6 v-4.5 q-2.8,-2.5 -5.6,-2.1" fill="#fff" stroke="#1e1e1e" stroke-width="1.1" />
<path d="M785,361 A43,43 0 0 0 742.6,404" fill="none" stroke="#1e1e1e" stroke-width="1.2" />
<circle cx="774.40" cy="383.00" r="11.80" fill="none" stroke="#1e1e1e" stroke-width="1.2"/>
<line x1="762.60" y1="383.00" x2="786.20" y2="383.00" stroke="#1e1e1e" stroke-width="1.0" />
<text x="767.00" y="382.00" font-size="7.6" textLength="14.80" lengthAdjust="spacingAndGlyphs" fill="#1e1e1e" font-weight="bold" stroke="#1e1e1e" stroke-width="0.3">0,80</text>
<text x="767.00" y="390.20" font-size="7.6" textLength="14.80" lengthAdjust="spacingAndGlyphs" fill="#1e1e1e" font-weight="bold" stroke="#1e1e1e" stroke-width="0.3">2,20</text>
<line x1="751.00" y1="275.25" x2="751.00" y2="360.40" stroke="#1e1e1e" stroke-width="1.3" />
<line x1="752.90" y1="275.25" x2="752.90" y2="360.40" stroke="#1e1e1e" stroke-width="1.0" />
<line x1="782.90" y1="275.25" x2="782.90" y2="360.40" stroke="#1e1e1e" stroke-width="1.6" />
<line x1="751.00" y1="275.25" x2="782.90" y2="275.25" stroke="#1e1e1e" stroke-width="1.3" />
<line x1="751.00" y1="295.90" x2="782.90" y2="295.90" stroke="#1e1e1e" stroke-width="1.2" />
<line x1="751.00" y1="327.75" x2="782.90" y2="327.75" stroke="#1e1e1e" stroke-width="1.2" />
<line x1="751.00" y1="360.40" x2="788.00" y2="360.40" stroke="#1e1e1e" stroke-width="1.3" />
<clipPath id="wt1"><polygon points="752.9,275.25 782.9,275.25 781,295.9"/></clipPath>
<g clip-path="url(#wt1)">
<rect x="752" y="275.25" width="31" height="20.649999999999977" fill="#8a8a8a"/>
<line x1="753.50" y1="275.25" x2="753.50" y2="295.90" stroke="#222" stroke-width="1.1" />
<line x1="755.85" y1="275.25" x2="755.85" y2="295.90" stroke="#222" stroke-width="1.1" />
<line x1="758.20" y1="275.25" x2="758.20" y2="295.90" stroke="#222" stroke-width="1.1" />
<line x1="760.55" y1="275.25" x2="760.55" y2="295.90" stroke="#222" stroke-width="1.1" />
<line x1="762.90" y1="275.25" x2="762.90" y2="295.90" stroke="#222" stroke-width="1.1" />
<line x1="765.25" y1="275.25" x2="765.25" y2="295.90" stroke="#222" stroke-width="1.1" />
<line x1="767.60" y1="275.25" x2="767.60" y2="295.90" stroke="#222" stroke-width="1.1" />
<line x1="769.95" y1="275.25" x2="769.95" y2="295.90" stroke="#222" stroke-width="1.1" />
<line x1="772.30" y1="275.25" x2="772.30" y2="295.90" stroke="#222" stroke-width="1.1" />
<line x1="774.65" y1="275.25" x2="774.65" y2="295.90" stroke="#222" stroke-width="1.1" />
<line x1="777.00" y1="275.25" x2="777.00" y2="295.90" stroke="#222" stroke-width="1.1" />
<line x1="779.35" y1="275.25" x2="779.35" y2="295.90" stroke="#222" stroke-width="1.1" />
<line x1="781.70" y1="275.25" x2="781.70" y2="295.90" stroke="#222" stroke-width="1.1" />
</g>
<line x1="752.90" y1="275.75" x2="781.00" y2="295.90" stroke="#1e1e1e" stroke-width="1.2" />
<clipPath id="wt2"><polygon points="752.9,295.9 782.9,295.9 781,327.75"/></clipPath>
<g clip-path="url(#wt2)">
<rect x="752" y="295.9" width="31" height="31.850000000000023" fill="#8a8a8a"/>
<line x1="753.50" y1="295.90" x2="753.50" y2="327.75" stroke="#222" stroke-width="1.1" />
<line x1="755.85" y1="295.90" x2="755.85" y2="327.75" stroke="#222" stroke-width="1.1" />
<line x1="758.20" y1="295.90" x2="758.20" y2="327.75" stroke="#222" stroke-width="1.1" />
<line x1="760.55" y1="295.90" x2="760.55" y2="327.75" stroke="#222" stroke-width="1.1" />
<line x1="762.90" y1="295.90" x2="762.90" y2="327.75" stroke="#222" stroke-width="1.1" />
<line x1="765.25" y1="295.90" x2="765.25" y2="327.75" stroke="#222" stroke-width="1.1" />
<line x1="767.60" y1="295.90" x2="767.60" y2="327.75" stroke="#222" stroke-width="1.1" />
<line x1="769.95" y1="295.90" x2="769.95" y2="327.75" stroke="#222" stroke-width="1.1" />
<line x1="772.30" y1="295.90" x2="772.30" y2="327.75" stroke="#222" stroke-width="1.1" />
<line x1="774.65" y1="295.90" x2="774.65" y2="327.75" stroke="#222" stroke-width="1.1" />
<line x1="777.00" y1="295.90" x2="777.00" y2="327.75" stroke="#222" stroke-width="1.1" />
<line x1="779.35" y1="295.90" x2="779.35" y2="327.75" stroke="#222" stroke-width="1.1" />
<line x1="781.70" y1="295.90" x2="781.70" y2="327.75" stroke="#222" stroke-width="1.1" />
</g>
<line x1="752.90" y1="296.40" x2="781.00" y2="327.75" stroke="#1e1e1e" stroke-width="1.2" />
<clipPath id="wt3"><polygon points="752.9,327.75 782.9,327.75 781,360.4"/></clipPath>
<g clip-path="url(#wt3)">
<rect x="752" y="327.75" width="31" height="32.64999999999998" fill="#8a8a8a"/>
<line x1="753.50" y1="327.75" x2="753.50" y2="360.40" stroke="#222" stroke-width="1.1" />
<line x1="755.85" y1="327.75" x2="755.85" y2="360.40" stroke="#222" stroke-width="1.1" />
<line x1="758.20" y1="327.75" x2="758.20" y2="360.40" stroke="#222" stroke-width="1.1" />
<line x1="760.55" y1="327.75" x2="760.55" y2="360.40" stroke="#222" stroke-width="1.1" />
<line x1="762.90" y1="327.75" x2="762.90" y2="360.40" stroke="#222" stroke-width="1.1" />
<line x1="765.25" y1="327.75" x2="765.25" y2="360.40" stroke="#222" stroke-width="1.1" />
<line x1="767.60" y1="327.75" x2="767.60" y2="360.40" stroke="#222" stroke-width="1.1" />
<line x1="769.95" y1="327.75" x2="769.95" y2="360.40" stroke="#222" stroke-width="1.1" />
<line x1="772.30" y1="327.75" x2="772.30" y2="360.40" stroke="#222" stroke-width="1.1" />
<line x1="774.65" y1="327.75" x2="774.65" y2="360.40" stroke="#222" stroke-width="1.1" />
<line x1="777.00" y1="327.75" x2="777.00" y2="360.40" stroke="#222" stroke-width="1.1" />
<line x1="779.35" y1="327.75" x2="779.35" y2="360.40" stroke="#222" stroke-width="1.1" />
<line x1="781.70" y1="327.75" x2="781.70" y2="360.40" stroke="#222" stroke-width="1.1" />
</g>
<line x1="752.90" y1="328.25" x2="781.00" y2="360.40" stroke="#1e1e1e" stroke-width="1.2" />
<line x1="787.25" y1="271.00" x2="787.25" y2="360.40" stroke="#1e1e1e" stroke-width="1.3" />
<rect x="789.00" y="310.25" width="2.60" height="41.25" rx="0" fill="#999" stroke="#1e1e1e" stroke-width="1.0" />
<path d="M789.75,310.2 A41.8,41.8 0 0 1 832.8,350.2" fill="none" stroke="#1e1e1e" stroke-width="1.2" />
<circle cx="808.90" cy="336.50" r="11.80" fill="none" stroke="#1e1e1e" stroke-width="1.2"/>
<line x1="797.10" y1="336.50" x2="820.70" y2="336.50" stroke="#1e1e1e" stroke-width="1.0" />
<text x="801.50" y="335.50" font-size="7.6" textLength="14.80" lengthAdjust="spacingAndGlyphs" fill="#1e1e1e" font-weight="bold" stroke="#1e1e1e" stroke-width="0.3">0,80</text>
<text x="801.50" y="343.70" font-size="7.6" textLength="14.80" lengthAdjust="spacingAndGlyphs" fill="#1e1e1e" font-weight="bold" stroke="#1e1e1e" stroke-width="0.3">2,20</text>
<rect x="833.00" y="349.30" width="35.75" height="5.70" rx="0" fill="none" stroke="#1e1e1e" stroke-width="1.2" />
<rect x="833.00" y="349.30" width="2.40" height="5.70" rx="0" fill="#1e1e1e" stroke="#1e1e1e" stroke-width="1" />
<path d="M833,225.6 H755.5 V270.25 H827 Q833,270.25 833,264 Z" fill="none" stroke="#1e1e1e" stroke-width="1.9" />
<line x1="754.50" y1="232.75" x2="778.25" y2="232.75" stroke="#1e1e1e" stroke-width="1.1" />
<line x1="802.50" y1="232.75" x2="833.00" y2="232.75" stroke="#1e1e1e" stroke-width="1.1" />
<text x="784.00" y="235.75" font-size="8.5" textLength="13.00" lengthAdjust="spacingAndGlyphs" fill="#1e1e1e" font-weight="bold" stroke="#1e1e1e" stroke-width="0.3">1,46</text>
<circle cx="755.50" cy="232.75" r="1.30" fill="#1e1e1e"/>
<line x1="753.90" y1="233.71" x2="757.10" y2="231.79" stroke="#1e1e1e" stroke-width="1.3" />
<circle cx="833.00" cy="232.75" r="1.30" fill="#1e1e1e"/>
<line x1="831.40" y1="233.71" x2="834.60" y2="231.79" stroke="#1e1e1e" stroke-width="1.3" />
<line x1="762.60" y1="225.60" x2="762.60" y2="241.00" stroke="#1e1e1e" stroke-width="1.1" />
<line x1="762.60" y1="259.50" x2="762.60" y2="270.00" stroke="#1e1e1e" stroke-width="1.1" />
<text transform="translate(765.50,258.00) rotate(-90)" font-size="8.5" textLength="15.50" lengthAdjust="spacingAndGlyphs" fill="#1e1e1e" font-weight="bold" stroke="#1e1e1e" stroke-width="0.3">0,85</text>
<line x1="765.00" y1="243.00" x2="830.00" y2="243.00" stroke="#1e1e1e" stroke-width="1.4" stroke-dasharray="2.4 2.6"/>
<ellipse cx="851.90" cy="273.00" rx="12.50" ry="8.75" fill="none" stroke="#1e1e1e" stroke-width="1.3"/>
<ellipse cx="850.50" cy="273.00" rx="9.40" ry="6.30" fill="none" stroke="#1e1e1e" stroke-width="1.1"/>
<ellipse cx="856.30" cy="273.00" rx="2.00" ry="3.20" fill="none" stroke="#1e1e1e" stroke-width="1.0"/>
<rect x="865.60" y="263.00" width="9.40" height="19.50" rx="3" fill="none" stroke="#1e1e1e" stroke-width="1.2" />
<rect x="867.40" y="268.00" width="5.60" height="11.00" rx="2" fill="none" stroke="#1e1e1e" stroke-width="0.9" />
<line x1="855.60" y1="257.00" x2="855.60" y2="361.00" stroke="#1e1e1e" stroke-width="1.1" />
<line x1="869.40" y1="257.00" x2="869.40" y2="412.60" stroke="#1e1e1e" stroke-width="1.3" />
<line x1="874.90" y1="257.00" x2="874.90" y2="412.60" stroke="#1e1e1e" stroke-width="1.3" />
<line x1="883.50" y1="257.00" x2="883.50" y2="329.75" stroke="#1e1e1e" stroke-width="1.1" />
<line x1="883.50" y1="344.75" x2="883.50" y2="534.00" stroke="#1e1e1e" stroke-width="1.1" />
<line x1="883.50" y1="550.50" x2="883.50" y2="672.60" stroke="#1e1e1e" stroke-width="1.1" />
<line x1="906.60" y1="257.00" x2="906.60" y2="376.00" stroke="#1e1e1e" stroke-width="1.2" />
<rect x="913.40" y="251.00" width="2.60" height="47.00" rx="0" fill="#aaa" stroke="#1e1e1e" stroke-width="1.0" />
<path d="M958.5,257 A43.8,43.8 0 0 1 914.75,300" fill="none" stroke="#1e1e1e" stroke-width="1.2" />
<line x1="791.00" y1="282.00" x2="814.75" y2="282.00" stroke="#1e1e1e" stroke-width="1.2" />
<line x1="839.40" y1="282.00" x2="919.40" y2="282.00" stroke="#1e1e1e" stroke-width="1.2" />
<line x1="945.40" y1="282.00" x2="1011.00" y2="282.00" stroke="#1e1e1e" stroke-width="1.2" />
<text x="821.00" y="285.00" font-size="8.5" textLength="12.50" lengthAdjust="spacingAndGlyphs" fill="#1e1e1e" font-weight="bold" stroke="#1e1e1e" stroke-width="0.3">1,66</text>
<text x="924.75" y="285.00" font-size="8.5" textLength="15.00" lengthAdjust="spacingAndGlyphs" fill="#1e1e1e" font-weight="bold" stroke="#1e1e1e" stroke-width="0.3">2,30</text>
<text x="758.50" y="285.00" font-size="8.5" textLength="13.50" lengthAdjust="spacingAndGlyphs" fill="#1e1e1e" font-weight="bold" stroke="#1e1e1e" stroke-width="0.3">0,60</text>
<text x="865.00" y="285.00" font-size="8.5" textLength="15.00" lengthAdjust="spacingAndGlyphs" fill="#1e1e1e" font-weight="bold" stroke="#1e1e1e" stroke-width="0.3">0,10</text>
<circle cx="787.25" cy="282.00" r="1.06" fill="#1e1e1e"/>
<line x1="785.95" y1="282.78" x2="788.55" y2="281.22" stroke="#1e1e1e" stroke-width="1.3" />
<circle cx="855.60" cy="282.00" r="1.06" fill="#1e1e1e"/>
<line x1="854.30" y1="282.78" x2="856.90" y2="281.22" stroke="#1e1e1e" stroke-width="1.3" />
<circle cx="869.40" cy="282.00" r="1.06" fill="#1e1e1e"/>
<line x1="868.10" y1="282.78" x2="870.70" y2="281.22" stroke="#1e1e1e" stroke-width="1.3" />
<circle cx="875.00" cy="282.00" r="1.06" fill="#1e1e1e"/>
<line x1="873.70" y1="282.78" x2="876.30" y2="281.22" stroke="#1e1e1e" stroke-width="1.3" />
<circle cx="906.60" cy="282.00" r="1.06" fill="#1e1e1e"/>
<line x1="905.30" y1="282.78" x2="907.90" y2="281.22" stroke="#1e1e1e" stroke-width="1.3" />
<circle cx="964.50" cy="282.00" r="1.06" fill="#1e1e1e"/>
<line x1="963.20" y1="282.78" x2="965.80" y2="281.22" stroke="#1e1e1e" stroke-width="1.3" />
<circle cx="997.00" cy="282.00" r="1.06" fill="#1e1e1e"/>
<line x1="995.70" y1="282.78" x2="998.30" y2="281.22" stroke="#1e1e1e" stroke-width="1.3" />
<line x1="843.00" y1="294.40" x2="843.00" y2="349.75" stroke="#1e1e1e" stroke-width="1.2" />
<line x1="842.50" y1="294.40" x2="868.75" y2="294.40" stroke="#1e1e1e" stroke-width="1.2" />
<rect x="845.60" y="308.00" width="23.15" height="25.50" rx="4.5" fill="none" stroke="#1e1e1e" stroke-width="1.3" />
<rect x="848.00" y="311.00" width="17.00" height="20.00" rx="3" fill="none" stroke="#1e1e1e" stroke-width="1.1" />
<rect x="865.50" y="317.00" width="3.00" height="8.00" rx="1" fill="#999" stroke="#1e1e1e" stroke-width="0.9" />
<text transform="translate(858.30,329.00) rotate(-90)" font-size="8.5" textLength="15.00" lengthAdjust="spacingAndGlyphs" fill="#1e1e1e" font-weight="bold" stroke="#1e1e1e" stroke-width="0.3">1,75</text>
<circle cx="860.40" cy="321.00" r="0.90" fill="#1e1e1e" stroke="#1e1e1e" stroke-width="0.5"/>
<line x1="875.00" y1="289.00" x2="907.00" y2="289.00" stroke="#1e1e1e" stroke-width="1.2" />
<text transform="translate(858.40,387.00) rotate(-90)" font-size="8.5" textLength="14.00" lengthAdjust="spacingAndGlyphs" fill="#1e1e1e" font-weight="bold" stroke="#1e1e1e" stroke-width="0.3">1,00</text>
<text transform="translate(858.40,417.75) rotate(-90)" font-size="8.5" textLength="15.00" lengthAdjust="spacingAndGlyphs" fill="#1e1e1e" font-weight="bold" stroke="#1e1e1e" stroke-width="0.3">0,10</text>
<line x1="855.60" y1="391.50" x2="855.60" y2="402.75" stroke="#1e1e1e" stroke-width="1.1" />
<circle cx="855.60" cy="349.50" r="1.06" fill="#1e1e1e"/>
<line x1="854.30" y1="350.28" x2="856.90" y2="348.72" stroke="#1e1e1e" stroke-width="1.3" />
<circle cx="855.60" cy="355.00" r="1.06" fill="#1e1e1e"/>
<line x1="854.30" y1="355.78" x2="856.90" y2="354.22" stroke="#1e1e1e" stroke-width="1.3" />
<line x1="874.90" y1="320.40" x2="906.60" y2="320.40" stroke="#1e1e1e" stroke-width="1.2" />
<line x1="874.90" y1="351.60" x2="906.60" y2="351.60" stroke="#1e1e1e" stroke-width="1.2" />
<line x1="874.90" y1="376.00" x2="906.60" y2="376.00" stroke="#1e1e1e" stroke-width="1.2" />
<text transform="translate(886.40,344.75) rotate(-90)" font-size="8.5" textLength="15.00" lengthAdjust="spacingAndGlyphs" fill="#1e1e1e" font-weight="bold" stroke="#1e1e1e" stroke-width="0.3">2,95</text>
<path d="M875.6,412.6 V380.4 H903 Q906.4,380.4 906.4,384 V412.6" fill="none" stroke="#1e1e1e" stroke-width="1.2" />
<line x1="863.75" y1="412.60" x2="905.60" y2="412.60" stroke="#1e1e1e" stroke-width="1.5" />
<line x1="861.90" y1="363.50" x2="861.90" y2="412.60" stroke="#1e1e1e" stroke-width="1.0" />
<line x1="864.40" y1="363.50" x2="864.40" y2="412.60" stroke="#1e1e1e" stroke-width="1.0" />
<line x1="855.60" y1="363.50" x2="864.40" y2="363.50" stroke="#1e1e1e" stroke-width="1.0" />
<line x1="878.00" y1="381.00" x2="878.00" y2="412.60" stroke="#1e1e1e" stroke-width="1.0" />
<line x1="901.25" y1="381.00" x2="901.25" y2="412.60" stroke="#1e1e1e" stroke-width="1.0" />
<text x="910.75" y="362.30" font-size="11.2" textLength="49.25" lengthAdjust="spacingAndGlyphs" fill="#1e1e1e" stroke="#1e1e1e" stroke-width="0.25">ΚΟΥΖΙΝΑ</text>
<path d="M855.6,363.5 A42.5,44 0 0 0 816.6,407.6" fill="none" stroke="#1e1e1e" stroke-width="1.2" />
<circle cx="842.00" cy="397.40" r="11.80" fill="none" stroke="#1e1e1e" stroke-width="1.2"/>
<line x1="830.20" y1="397.40" x2="853.80" y2="397.40" stroke="#1e1e1e" stroke-width="1.0" />
<text x="834.60" y="396.40" font-size="7.6" textLength="14.80" lengthAdjust="spacingAndGlyphs" fill="#1e1e1e" font-weight="bold" stroke="#1e1e1e" stroke-width="0.3">0,80</text>
<text x="834.60" y="404.60" font-size="7.6" textLength="14.80" lengthAdjust="spacingAndGlyphs" fill="#1e1e1e" font-weight="bold" stroke="#1e1e1e" stroke-width="0.3">2,20</text>
<line x1="964.50" y1="257.50" x2="964.50" y2="436.40" stroke="#1e1e1e" stroke-width="1.3" />
<line x1="964.50" y1="436.40" x2="996.00" y2="436.40" stroke="#1e1e1e" stroke-width="1.3" />
<line x1="964.50" y1="404.50" x2="996.00" y2="404.50" stroke="#1e1e1e" stroke-width="1.2" />
<line x1="996.00" y1="262.50" x2="996.00" y2="584.00" stroke="#1e1e1e" stroke-width="1.3" />
<rect x="966.60" y="262.50" width="22.40" height="39.10" rx="0" fill="none" stroke="#1e1e1e" stroke-width="1.2" />
<line x1="966.60" y1="286.25" x2="988.50" y2="286.25" stroke="#444" stroke-width="2.0" />
<line x1="988.50" y1="262.50" x2="988.50" y2="301.60" stroke="#1e1e1e" stroke-width="1.0" />
<line x1="966.60" y1="262.50" x2="994.75" y2="262.50" stroke="#1e1e1e" stroke-width="1.2" />
<line x1="964.50" y1="305.40" x2="996.00" y2="305.40" stroke="#555" stroke-width="1.6" />
<line x1="964.50" y1="309.75" x2="996.00" y2="309.75" stroke="#1e1e1e" stroke-width="1.2" />
<rect x="967.25" y="341.60" width="28.75" height="31.30" rx="0" fill="none" stroke="#1e1e1e" stroke-width="1.3" />
<line x1="964.50" y1="341.60" x2="996.00" y2="341.60" stroke="#1e1e1e" stroke-width="1.2" />
<line x1="964.50" y1="372.90" x2="996.00" y2="372.90" stroke="#1e1e1e" stroke-width="1.2" />
<line x1="966.00" y1="345.00" x2="966.00" y2="370.00" stroke="#777" stroke-width="1.2" />
<circle cx="974.40" cy="349.75" r="3.10" fill="none" stroke="#1e1e1e" stroke-width="1.2"/>
<circle cx="988.00" cy="349.50" r="5.60" fill="none" stroke="#1e1e1e" stroke-width="1.2"/>
<circle cx="974.40" cy="365.00" r="4.40" fill="none" stroke="#1e1e1e" stroke-width="1.2"/>
<circle cx="988.00" cy="365.00" r="5.00" fill="none" stroke="#1e1e1e" stroke-width="1.2"/>
<circle cx="984.00" cy="282.00" r="1.10" fill="none" stroke="#1e1e1e" stroke-width="0.9"/>
<circle cx="984.00" cy="287.50" r="1.10" fill="none" stroke="#1e1e1e" stroke-width="0.9"/>
<circle cx="984.00" cy="292.50" r="1.10" fill="none" stroke="#1e1e1e" stroke-width="0.9"/>
<circle cx="991.00" cy="282.00" r="1.10" fill="none" stroke="#1e1e1e" stroke-width="0.9"/>
<circle cx="991.00" cy="287.50" r="1.10" fill="none" stroke="#1e1e1e" stroke-width="0.9"/>
<circle cx="991.00" cy="292.50" r="1.10" fill="none" stroke="#1e1e1e" stroke-width="0.9"/>
<clipPath id="hc2"><polygon points="988.50,243.75 1009.00,243.75 1009.00,297.00 994.75,297.00 994.75,262.50 988.50,262.50"/></clipPath>
<polygon points="988.50,243.75 1009.00,243.75 1009.00,297.00 994.75,297.00 994.75,262.50 988.50,262.50" fill="url(#hp)" stroke="none"/>
<polygon points="988.50,243.75 1009.00,243.75 1009.00,297.00 994.75,297.00 994.75,262.50 988.50,262.50" fill="url(#hp2)" stroke="none"/>
<polygon points="988.50,243.75 1009.00,243.75 1009.00,297.00 994.75,297.00 994.75,262.50 988.50,262.50" fill="none" stroke="#111" stroke-width="1.9"/>
<line x1="984.00" y1="238.75" x2="1014.00" y2="238.75" stroke="#1e1e1e" stroke-width="1.2" />
<line x1="984.00" y1="240.80" x2="1012.00" y2="240.80" stroke="#1e1e1e" stroke-width="0.9" />
<line x1="1014.00" y1="238.75" x2="1014.00" y2="737.00" stroke="#1e1e1e" stroke-width="1.3" />
<line x1="1016.30" y1="300.00" x2="1016.30" y2="737.00" stroke="#1e1e1e" stroke-width="0.9" />
<line x1="1009.00" y1="297.00" x2="1009.00" y2="737.60" stroke="#1e1e1e" stroke-width="1.3" />
<line x1="997.00" y1="297.00" x2="997.00" y2="439.00" stroke="#1e1e1e" stroke-width="1.1" />
<line x1="997.00" y1="460.00" x2="997.00" y2="584.00" stroke="#1e1e1e" stroke-width="1.1" />
<line x1="1022.90" y1="242.50" x2="1022.90" y2="474.00" stroke="#1e1e1e" stroke-width="1.2" />
<line x1="1022.90" y1="494.00" x2="1022.90" y2="737.00" stroke="#1e1e1e" stroke-width="1.2" />
<text transform="translate(1026.50,491.00) rotate(-90)" font-size="8.5" textLength="14.00" lengthAdjust="spacingAndGlyphs" fill="#1e1e1e" font-weight="bold" stroke="#1e1e1e" stroke-width="0.3">7,00</text>
<clipPath id="hc3"><polygon points="988.50,439.25 1009.00,439.25 1009.00,460.00 988.50,460.00"/></clipPath>
<polygon points="988.50,439.25 1009.00,439.25 1009.00,460.00 988.50,460.00" fill="url(#hp)" stroke="none"/>
<polygon points="988.50,439.25 1009.00,439.25 1009.00,460.00 988.50,460.00" fill="url(#hp2)" stroke="none"/>
<polygon points="988.50,439.25 1009.00,439.25 1009.00,460.00 988.50,460.00" fill="none" stroke="#111" stroke-width="1.9"/>
<clipPath id="hc4"><polygon points="993.25,584.00 1009.00,584.00 1009.00,690.00 993.25,690.00"/></clipPath>
<polygon points="993.25,584.00 1009.00,584.00 1009.00,690.00 993.25,690.00" fill="url(#hp)" stroke="none"/>
<polygon points="993.25,584.00 1009.00,584.00 1009.00,690.00 993.25,690.00" fill="url(#hp2)" stroke="none"/>
<polygon points="993.25,584.00 1009.00,584.00 1009.00,690.00 993.25,690.00" fill="none" stroke="#111" stroke-width="1.9"/>
<line x1="993.25" y1="690.00" x2="993.25" y2="724.50" stroke="#1e1e1e" stroke-width="1.3" />
<line x1="869.25" y1="724.50" x2="993.25" y2="724.50" stroke="#1e1e1e" stroke-width="1.3" />
<line x1="919.75" y1="460.50" x2="996.00" y2="460.50" stroke="#1e1e1e" stroke-width="1.3" />
<line x1="850.60" y1="460.50" x2="921.00" y2="460.50" stroke="#1e1e1e" stroke-width="1.3" stroke-dasharray="2.4 2.4"/>
<line x1="850.60" y1="484.50" x2="921.00" y2="484.50" stroke="#1e1e1e" stroke-width="1.3" stroke-dasharray="2.4 2.4"/>
<line x1="850.60" y1="508.30" x2="921.00" y2="508.30" stroke="#1e1e1e" stroke-width="1.3" stroke-dasharray="2.4 2.4"/>
<line x1="850.60" y1="460.50" x2="850.60" y2="508.30" stroke="#1e1e1e" stroke-width="1.2" stroke-dasharray="2.4 2.4"/>
<line x1="865.00" y1="460.50" x2="865.00" y2="508.30" stroke="#1e1e1e" stroke-width="1.2" stroke-dasharray="2.4 2.4"/>
<line x1="879.40" y1="460.50" x2="879.40" y2="508.30" stroke="#1e1e1e" stroke-width="1.2" stroke-dasharray="2.4 2.4"/>
<line x1="893.00" y1="460.50" x2="893.00" y2="508.30" stroke="#1e1e1e" stroke-width="1.2" stroke-dasharray="2.4 2.4"/>
<line x1="907.50" y1="460.50" x2="907.50" y2="508.30" stroke="#1e1e1e" stroke-width="1.2" stroke-dasharray="2.4 2.4"/>
<line x1="921.90" y1="460.50" x2="921.90" y2="508.30" stroke="#1e1e1e" stroke-width="1.2" stroke-dasharray="2.4 2.4"/>
<line x1="850.60" y1="491.75" x2="850.60" y2="508.00" stroke="#1e1e1e" stroke-width="1.2" />
<line x1="922.25" y1="460.60" x2="936.60" y2="508.00" stroke="#1e1e1e" stroke-width="2.2" />
<line x1="936.00" y1="460.60" x2="936.00" y2="508.00" stroke="#1e1e1e" stroke-width="1.1" />
<line x1="959.75" y1="460.60" x2="941.00" y2="508.00" stroke="#1e1e1e" stroke-width="1.15" />
<line x1="992.25" y1="461.25" x2="945.40" y2="508.00" stroke="#1e1e1e" stroke-width="1.15" />
<line x1="996.00" y1="494.40" x2="947.90" y2="508.60" stroke="#1e1e1e" stroke-width="1.15" />
<line x1="996.00" y1="520.00" x2="948.50" y2="511.25" stroke="#1e1e1e" stroke-width="1.15" />
<line x1="996.00" y1="552.25" x2="947.25" y2="513.00" stroke="#1e1e1e" stroke-width="1.15" />
<line x1="965.40" y1="560.75" x2="944.75" y2="513.75" stroke="#1e1e1e" stroke-width="1.15" />
<polyline points="897.25,508.30 897.25,513.00 947.90,513.00 947.90,508.30" fill="none" stroke="#1e1e1e" stroke-width="1.15" />
<line x1="921.00" y1="508.30" x2="947.90" y2="508.30" stroke="#1e1e1e" stroke-width="1.1" />
<path d="M933.5,484.4 H949 A24.5,25.6 0 0 1 973,510 A24.5,26 0 0 1 957,534.5" fill="none" stroke="#1e1e1e" stroke-width="1.2" />
<line x1="897.90" y1="513.00" x2="897.90" y2="560.75" stroke="#1e1e1e" stroke-width="1.25" />
<line x1="912.10" y1="513.00" x2="912.10" y2="560.75" stroke="#1e1e1e" stroke-width="1.25" />
<line x1="926.10" y1="513.00" x2="926.10" y2="560.75" stroke="#1e1e1e" stroke-width="1.25" />
<line x1="940.40" y1="513.00" x2="940.40" y2="560.75" stroke="#1e1e1e" stroke-width="1.25" />
<line x1="897.90" y1="536.80" x2="954.75" y2="536.80" stroke="#1e1e1e" stroke-width="1.25" />
<line x1="897.90" y1="560.75" x2="996.00" y2="560.75" stroke="#1e1e1e" stroke-width="1.3" />
<text x="898.25" y="580.80" font-size="11.8" textLength="70.00" lengthAdjust="spacingAndGlyphs" fill="#1e1e1e" stroke="#1e1e1e" stroke-width="0.25">ΤΡΑΠΕΖΑΡΙΑ</text>
<g opacity="0.10" fill="none" stroke="#555" stroke-width="3"><path d="M953,468 h-16 v9 q14,-3 15,7 q0,9 -15,8"/><path d="M962,468 h22 v24 h-22 z"/></g>
<rect x="803.50" y="491.75" width="47.10" height="116.25" rx="0" fill="none" stroke="#1e1e1e" stroke-width="1.3" />
<polyline points="803.50,496.75 845.60,496.75 845.60,602.50 803.50,602.50" fill="none" stroke="#1e1e1e" stroke-width="1.2" />
<line x1="804.80" y1="496.75" x2="804.80" y2="602.50" stroke="#1e1e1e" stroke-width="1.0" />
<rect x="740.00" y="496.75" width="42.60" height="52.75" rx="0" fill="none" stroke="#1e1e1e" stroke-width="1.3" />
<text x="740.50" y="523.60" font-size="11.6" textLength="42.90" lengthAdjust="spacingAndGlyphs" fill="#1e1e1e" stroke="#1e1e1e" stroke-width="0.25">ΣΑΛΟΝΙ</text>
<text transform="translate(886.40,550.50) rotate(-90)" font-size="8.5" textLength="16.50" lengthAdjust="spacingAndGlyphs" fill="#1e1e1e" font-weight="bold" stroke="#1e1e1e" stroke-width="0.3">5,00</text>
<rect x="910.00" y="587.25" width="47.00" height="112.15" rx="0" fill="none" stroke="#1e1e1e" stroke-width="1.3" />
<path d="M910,597.4 A13.4,13 0 0 0 910,623.4" fill="none" stroke="#1e1e1e" stroke-width="1.2" />
<path d="M957,597.4 A13.4,13 0 0 1 957,623.4" fill="none" stroke="#1e1e1e" stroke-width="1.2" />
<path d="M910,630 A13.4,13 0 0 0 910,656" fill="none" stroke="#1e1e1e" stroke-width="1.2" />
<path d="M957,630 A13.4,13 0 0 1 957,656" fill="none" stroke="#1e1e1e" stroke-width="1.2" />
<path d="M910,663 A13.4,13 0 0 0 910,689" fill="none" stroke="#1e1e1e" stroke-width="1.2" />
<path d="M957,663 A13.4,13 0 0 1 957,689" fill="none" stroke="#1e1e1e" stroke-width="1.2" />
<line x1="688.00" y1="672.40" x2="755.25" y2="672.40" stroke="#1e1e1e" stroke-width="1.2" />
<line x1="781.00" y1="672.40" x2="919.00" y2="672.40" stroke="#1e1e1e" stroke-width="1.2" />
<line x1="944.75" y1="672.40" x2="993.50" y2="672.40" stroke="#1e1e1e" stroke-width="1.2" />
<text x="760.90" y="675.40" font-size="8.5" textLength="15.60" lengthAdjust="spacingAndGlyphs" fill="#1e1e1e" font-weight="bold" stroke="#1e1e1e" stroke-width="0.3">3,60</text>
<text x="924.00" y="675.40" font-size="8.5" textLength="15.75" lengthAdjust="spacingAndGlyphs" fill="#1e1e1e" font-weight="bold" stroke="#1e1e1e" stroke-width="0.3">2,35</text>
<circle cx="687.60" cy="672.40" r="1.06" fill="#1e1e1e"/>
<line x1="686.30" y1="673.18" x2="688.90" y2="671.62" stroke="#1e1e1e" stroke-width="1.3" />
<circle cx="869.25" cy="672.40" r="1.06" fill="#1e1e1e"/>
<line x1="867.95" y1="673.18" x2="870.55" y2="671.62" stroke="#1e1e1e" stroke-width="1.3" />
<circle cx="883.50" cy="672.40" r="1.06" fill="#1e1e1e"/>
<line x1="882.20" y1="673.18" x2="884.80" y2="671.62" stroke="#1e1e1e" stroke-width="1.3" />
<circle cx="993.25" cy="672.40" r="1.06" fill="#1e1e1e"/>
<line x1="991.95" y1="673.18" x2="994.55" y2="671.62" stroke="#1e1e1e" stroke-width="1.3" />
<text x="749.00" y="631.40" font-size="10.4" textLength="53.75" lengthAdjust="spacingAndGlyphs" fill="#1e1e1e" font-weight="bold" >Δ΄ ΟΡΟΦΟΣ</text>
<text x="750.90" y="643.80" font-size="10.4" textLength="50.60" lengthAdjust="spacingAndGlyphs" fill="#1e1e1e" font-weight="bold" >Ε=64.21μ2</text>
<line x1="764.00" y1="677.40" x2="869.25" y2="677.40" stroke="#1e1e1e" stroke-width="1.4" />
<line x1="769.00" y1="679.40" x2="843.00" y2="679.40" stroke="#1e1e1e" stroke-width="1.0" />
<line x1="690.00" y1="680.20" x2="769.00" y2="680.20" stroke="#333" stroke-width="2.0" />
<line x1="690.00" y1="672.90" x2="756.00" y2="672.90" stroke="#1e1e1e" stroke-width="0.9" />
<line x1="869.25" y1="677.25" x2="869.25" y2="724.50" stroke="#1e1e1e" stroke-width="1.3" />
<line x1="687.50" y1="672.00" x2="687.50" y2="695.75" stroke="#1e1e1e" stroke-width="1.3" />
<line x1="687.50" y1="695.75" x2="843.00" y2="695.75" stroke="#1e1e1e" stroke-width="1.3" />
<rect x="687.50" y="676.00" width="3.10" height="10.00" rx="1.4" fill="none" stroke="#1e1e1e" stroke-width="1.0" />
<line x1="844.90" y1="677.25" x2="844.90" y2="695.00" stroke="#1e1e1e" stroke-width="1.2" />
<line x1="848.00" y1="677.25" x2="848.00" y2="690.00" stroke="#1e1e1e" stroke-width="1.2" />
<line x1="848.00" y1="690.00" x2="861.50" y2="690.00" stroke="#1e1e1e" stroke-width="1.2" />
<line x1="861.50" y1="690.00" x2="861.50" y2="768.00" stroke="#1e1e1e" stroke-width="1.3" />
<line x1="845.00" y1="695.00" x2="856.75" y2="695.00" stroke="#1e1e1e" stroke-width="1.2" />
<line x1="856.75" y1="695.00" x2="856.75" y2="764.50" stroke="#1e1e1e" stroke-width="1.2" />
<line x1="856.75" y1="738.50" x2="861.50" y2="738.50" stroke="#1e1e1e" stroke-width="1.1" />
<line x1="852.40" y1="689.50" x2="852.40" y2="704.00" stroke="#1e1e1e" stroke-width="1.1" />
<line x1="852.40" y1="721.50" x2="852.40" y2="733.00" stroke="#1e1e1e" stroke-width="1.1" />
<text transform="translate(855.20,720.75) rotate(-90)" font-size="8.5" textLength="15.75" lengthAdjust="spacingAndGlyphs" fill="#1e1e1e" font-weight="bold" stroke="#1e1e1e" stroke-width="0.3">0,80</text>
<circle cx="852.40" cy="690.00" r="1.06" fill="#1e1e1e"/>
<line x1="851.10" y1="690.78" x2="853.70" y2="689.22" stroke="#1e1e1e" stroke-width="1.3" />
<circle cx="852.40" cy="733.00" r="1.06" fill="#1e1e1e"/>
<line x1="851.10" y1="733.78" x2="853.70" y2="732.22" stroke="#1e1e1e" stroke-width="1.3" />
<line x1="883.60" y1="672.60" x2="883.60" y2="691.00" stroke="#1e1e1e" stroke-width="1.1" />
<line x1="883.60" y1="708.50" x2="883.60" y2="724.50" stroke="#1e1e1e" stroke-width="1.1" />
<text transform="translate(886.50,707.60) rotate(-90)" font-size="8.5" textLength="15.60" lengthAdjust="spacingAndGlyphs" fill="#1e1e1e" font-weight="bold" stroke="#1e1e1e" stroke-width="0.3">0,90</text>
<circle cx="883.60" cy="724.50" r="1.06" fill="#1e1e1e"/>
<line x1="882.30" y1="725.28" x2="884.90" y2="723.72" stroke="#1e1e1e" stroke-width="1.3" />
<line x1="861.75" y1="732.60" x2="909.00" y2="732.60" stroke="#1e1e1e" stroke-width="1.3" />
<line x1="861.75" y1="737.60" x2="911.60" y2="737.60" stroke="#1e1e1e" stroke-width="1.3" />
<line x1="961.00" y1="732.60" x2="1009.00" y2="732.60" stroke="#1e1e1e" stroke-width="1.3" />
<line x1="959.00" y1="737.60" x2="1009.00" y2="737.60" stroke="#1e1e1e" stroke-width="1.3" />
<line x1="909.00" y1="724.50" x2="909.00" y2="737.60" stroke="#1e1e1e" stroke-width="1.1" />
<line x1="911.60" y1="724.50" x2="911.60" y2="739.00" stroke="#1e1e1e" stroke-width="1.1" />
<line x1="956.60" y1="724.50" x2="956.60" y2="729.00" stroke="#1e1e1e" stroke-width="1.0" />
<line x1="959.00" y1="724.50" x2="959.00" y2="739.00" stroke="#1e1e1e" stroke-width="1.1" />
<line x1="961.00" y1="724.50" x2="961.00" y2="737.60" stroke="#1e1e1e" stroke-width="1.1" />
<line x1="914.75" y1="726.80" x2="956.00" y2="726.80" stroke="#777" stroke-width="3.6" />
<rect x="911.60" y="729.00" width="47.40" height="10.00" rx="0" fill="none" stroke="#1e1e1e" stroke-width="1.2" />
<rect x="923.75" y="745.50" width="26.00" height="14.50" rx="0" fill="none" stroke="#1e1e1e" stroke-width="1.3" />
<line x1="923.75" y1="752.75" x2="949.75" y2="752.75" stroke="#1e1e1e" stroke-width="1.0" />
<text x="926.75" y="751.65" font-size="7.4" textLength="20.00" lengthAdjust="spacingAndGlyphs" fill="#1e1e1e" font-weight="bold" stroke="#1e1e1e" stroke-width="0.3">1,60</text>
<rect x="924.95" y="753.95" width="23.60" height="4.85" rx="0" fill="#444" stroke="none" stroke-width="0" />
<text x="925.75" y="758.40" font-size="6.4" textLength="22.00" lengthAdjust="spacingAndGlyphs" fill="#ddd" font-weight="bold" >1,30|1,00</text>
<circle cx="1015.40" cy="719.40" r="5.20" fill="none" stroke="#1e1e1e" stroke-width="1.2"/>
<line x1="1015.40" y1="712.00" x2="1015.40" y2="737.00" stroke="#1e1e1e" stroke-width="1.0" />
<line x1="1008.00" y1="719.40" x2="1024.00" y2="719.40" stroke="#1e1e1e" stroke-width="1.0" />
<line x1="1021.00" y1="719.50" x2="1021.00" y2="737.00" stroke="#1e1e1e" stroke-width="1.0" />
<polygon points="1001.40,743.00 1007.40,736.20 1013.40,743.00 1007.40,749.80" fill="#1e1e1e" stroke="#1e1e1e" stroke-width="0.8" />
<polygon points="1004.10,743.00 1007.40,742.32 1007.40,746.74" fill="#eee" stroke="none" stroke-width="0" />
<text x="1014.00" y="742.60" font-size="6.3" textLength="18.00" lengthAdjust="spacingAndGlyphs" fill="#1e1e1e" font-weight="bold" stroke="#1e1e1e" stroke-width="0.35">+0.10</text>
<text x="1014.00" y="748.60" font-size="6.3" textLength="18.00" lengthAdjust="spacingAndGlyphs" fill="#1e1e1e" font-weight="bold" stroke="#1e1e1e" stroke-width="0.35">(17.70)</text>
<line x1="511.59" y1="696.90" x2="511.59" y2="700.40" stroke="#1e1e1e" stroke-width="1.3" />
<line x1="530.02" y1="696.90" x2="530.02" y2="700.40" stroke="#1e1e1e" stroke-width="1.3" />
<line x1="548.45" y1="696.90" x2="548.45" y2="700.40" stroke="#1e1e1e" stroke-width="1.3" />
<line x1="566.88" y1="696.90" x2="566.88" y2="700.40" stroke="#1e1e1e" stroke-width="1.3" />
<line x1="585.31" y1="696.90" x2="585.31" y2="700.40" stroke="#1e1e1e" stroke-width="1.3" />
<line x1="572.00" y1="710.00" x2="580.00" y2="710.00" stroke="#1e1e1e" stroke-width="1.3" />
<line x1="603.74" y1="696.90" x2="603.74" y2="700.40" stroke="#1e1e1e" stroke-width="1.3" />
<line x1="605.74" y1="710.00" x2="616.74" y2="710.00" stroke="#1e1e1e" stroke-width="1.3" />
<line x1="622.17" y1="697.40" x2="622.17" y2="710.00" stroke="#1e1e1e" stroke-width="1.3" />
<line x1="622.17" y1="710.00" x2="636.17" y2="710.00" stroke="#1e1e1e" stroke-width="1.3" />
<line x1="640.60" y1="697.40" x2="640.60" y2="710.00" stroke="#1e1e1e" stroke-width="1.3" />
<line x1="640.60" y1="710.00" x2="654.60" y2="710.00" stroke="#1e1e1e" stroke-width="1.3" />
<line x1="659.03" y1="697.40" x2="659.03" y2="710.00" stroke="#1e1e1e" stroke-width="1.3" />
<line x1="659.03" y1="710.00" x2="673.03" y2="710.00" stroke="#1e1e1e" stroke-width="1.3" />
<line x1="677.46" y1="697.40" x2="677.46" y2="710.00" stroke="#1e1e1e" stroke-width="1.3" />
<line x1="677.46" y1="710.00" x2="691.46" y2="710.00" stroke="#1e1e1e" stroke-width="1.3" />
<line x1="695.89" y1="697.40" x2="695.89" y2="710.00" stroke="#1e1e1e" stroke-width="1.3" />
<line x1="695.89" y1="710.00" x2="709.89" y2="710.00" stroke="#1e1e1e" stroke-width="1.3" />
<line x1="714.32" y1="697.40" x2="714.32" y2="710.00" stroke="#1e1e1e" stroke-width="1.3" />
<line x1="714.32" y1="710.00" x2="728.32" y2="710.00" stroke="#1e1e1e" stroke-width="1.3" />
<line x1="732.75" y1="697.40" x2="732.75" y2="710.00" stroke="#1e1e1e" stroke-width="1.3" />
<line x1="732.75" y1="710.00" x2="746.75" y2="710.00" stroke="#1e1e1e" stroke-width="1.3" />
<line x1="751.18" y1="697.40" x2="751.18" y2="710.00" stroke="#1e1e1e" stroke-width="1.3" />
<line x1="751.18" y1="710.00" x2="765.18" y2="710.00" stroke="#1e1e1e" stroke-width="1.3" />
<line x1="769.61" y1="697.40" x2="769.61" y2="710.00" stroke="#1e1e1e" stroke-width="1.3" />
<line x1="769.61" y1="710.00" x2="783.61" y2="710.00" stroke="#1e1e1e" stroke-width="1.3" />
<line x1="788.04" y1="697.40" x2="788.04" y2="710.00" stroke="#1e1e1e" stroke-width="1.3" />
<line x1="788.04" y1="710.00" x2="802.04" y2="710.00" stroke="#1e1e1e" stroke-width="1.3" />
<line x1="806.47" y1="697.40" x2="806.47" y2="710.00" stroke="#1e1e1e" stroke-width="1.3" />
<line x1="806.47" y1="710.00" x2="820.47" y2="710.00" stroke="#1e1e1e" stroke-width="1.3" />
<line x1="824.90" y1="697.40" x2="824.90" y2="710.00" stroke="#1e1e1e" stroke-width="1.3" />
<line x1="824.90" y1="710.00" x2="838.90" y2="710.00" stroke="#1e1e1e" stroke-width="1.3" />
<line x1="843.33" y1="697.40" x2="843.33" y2="710.00" stroke="#1e1e1e" stroke-width="1.3" />
<line x1="843.33" y1="710.00" x2="843.00" y2="710.00" stroke="#1e1e1e" stroke-width="1.3" />
<line x1="511.59" y1="715.90" x2="511.59" y2="729.00" stroke="#1e1e1e" stroke-width="1.3" />
<line x1="511.59" y1="729.00" x2="525.59" y2="729.00" stroke="#1e1e1e" stroke-width="1.3" />
<line x1="530.02" y1="715.90" x2="530.02" y2="729.00" stroke="#1e1e1e" stroke-width="1.3" />
<line x1="530.02" y1="729.00" x2="544.02" y2="729.00" stroke="#1e1e1e" stroke-width="1.3" />
<line x1="548.45" y1="715.90" x2="548.45" y2="729.00" stroke="#1e1e1e" stroke-width="1.3" />
<line x1="548.45" y1="729.00" x2="562.45" y2="729.00" stroke="#1e1e1e" stroke-width="1.3" />
<line x1="566.88" y1="715.90" x2="566.88" y2="729.00" stroke="#1e1e1e" stroke-width="1.3" />
<line x1="566.88" y1="729.00" x2="580.88" y2="729.00" stroke="#1e1e1e" stroke-width="1.3" />
<line x1="585.31" y1="715.90" x2="585.31" y2="729.00" stroke="#1e1e1e" stroke-width="1.3" />
<line x1="585.31" y1="729.00" x2="599.31" y2="729.00" stroke="#1e1e1e" stroke-width="1.3" />
<line x1="603.74" y1="715.90" x2="603.74" y2="729.00" stroke="#1e1e1e" stroke-width="1.3" />
<line x1="603.74" y1="729.00" x2="617.74" y2="729.00" stroke="#1e1e1e" stroke-width="1.3" />
<line x1="622.17" y1="715.90" x2="622.17" y2="729.00" stroke="#1e1e1e" stroke-width="1.3" />
<line x1="622.17" y1="729.00" x2="636.17" y2="729.00" stroke="#1e1e1e" stroke-width="1.3" />
<line x1="640.60" y1="715.90" x2="640.60" y2="729.00" stroke="#1e1e1e" stroke-width="1.3" />
<line x1="640.60" y1="729.00" x2="654.60" y2="729.00" stroke="#1e1e1e" stroke-width="1.3" />
<line x1="659.03" y1="715.90" x2="659.03" y2="729.00" stroke="#1e1e1e" stroke-width="1.3" />
<line x1="659.03" y1="729.00" x2="673.03" y2="729.00" stroke="#1e1e1e" stroke-width="1.3" />
<line x1="677.46" y1="715.90" x2="677.46" y2="729.00" stroke="#1e1e1e" stroke-width="1.3" />
<line x1="677.46" y1="729.00" x2="691.46" y2="729.00" stroke="#1e1e1e" stroke-width="1.3" />
<line x1="695.89" y1="715.90" x2="695.89" y2="729.00" stroke="#1e1e1e" stroke-width="1.3" />
<line x1="695.89" y1="729.00" x2="709.89" y2="729.00" stroke="#1e1e1e" stroke-width="1.3" />
<line x1="714.32" y1="715.90" x2="714.32" y2="729.00" stroke="#1e1e1e" stroke-width="1.3" />
<line x1="714.32" y1="729.00" x2="728.32" y2="729.00" stroke="#1e1e1e" stroke-width="1.3" />
<line x1="732.75" y1="715.90" x2="732.75" y2="729.00" stroke="#1e1e1e" stroke-width="1.3" />
<line x1="732.75" y1="729.00" x2="746.75" y2="729.00" stroke="#1e1e1e" stroke-width="1.3" />
<line x1="751.18" y1="715.90" x2="751.18" y2="729.00" stroke="#1e1e1e" stroke-width="1.3" />
<line x1="751.18" y1="729.00" x2="765.18" y2="729.00" stroke="#1e1e1e" stroke-width="1.3" />
<line x1="769.61" y1="715.90" x2="769.61" y2="729.00" stroke="#1e1e1e" stroke-width="1.3" />
<line x1="769.61" y1="729.00" x2="783.61" y2="729.00" stroke="#1e1e1e" stroke-width="1.3" />
<line x1="788.04" y1="715.90" x2="788.04" y2="729.00" stroke="#1e1e1e" stroke-width="1.3" />
<line x1="788.04" y1="729.00" x2="802.04" y2="729.00" stroke="#1e1e1e" stroke-width="1.3" />
<line x1="806.47" y1="715.90" x2="806.47" y2="729.00" stroke="#1e1e1e" stroke-width="1.3" />
<line x1="806.47" y1="729.00" x2="820.47" y2="729.00" stroke="#1e1e1e" stroke-width="1.3" />
<line x1="824.90" y1="715.90" x2="824.90" y2="729.00" stroke="#1e1e1e" stroke-width="1.3" />
<line x1="824.90" y1="729.00" x2="838.90" y2="729.00" stroke="#1e1e1e" stroke-width="1.3" />
<line x1="843.33" y1="715.90" x2="843.33" y2="729.00" stroke="#1e1e1e" stroke-width="1.3" />
<line x1="843.33" y1="729.00" x2="843.00" y2="729.00" stroke="#1e1e1e" stroke-width="1.3" />
<line x1="511.59" y1="734.40" x2="511.59" y2="747.00" stroke="#1e1e1e" stroke-width="1.3" />
<line x1="511.59" y1="747.00" x2="525.59" y2="747.00" stroke="#1e1e1e" stroke-width="1.3" />
<line x1="530.02" y1="734.40" x2="530.02" y2="747.00" stroke="#1e1e1e" stroke-width="1.3" />
<line x1="530.02" y1="747.00" x2="544.02" y2="747.00" stroke="#1e1e1e" stroke-width="1.3" />
<line x1="548.45" y1="734.40" x2="548.45" y2="747.00" stroke="#1e1e1e" stroke-width="1.3" />
<line x1="548.45" y1="747.00" x2="562.45" y2="747.00" stroke="#1e1e1e" stroke-width="1.3" />
<line x1="566.88" y1="734.40" x2="566.88" y2="747.00" stroke="#1e1e1e" stroke-width="1.3" />
<line x1="566.88" y1="747.00" x2="580.88" y2="747.00" stroke="#1e1e1e" stroke-width="1.3" />
<line x1="585.31" y1="734.40" x2="585.31" y2="747.00" stroke="#1e1e1e" stroke-width="1.3" />
<line x1="585.31" y1="747.00" x2="599.31" y2="747.00" stroke="#1e1e1e" stroke-width="1.3" />
<line x1="603.74" y1="734.40" x2="603.74" y2="747.00" stroke="#1e1e1e" stroke-width="1.3" />
<line x1="603.74" y1="747.00" x2="617.74" y2="747.00" stroke="#1e1e1e" stroke-width="1.3" />
<line x1="622.17" y1="734.40" x2="622.17" y2="747.00" stroke="#1e1e1e" stroke-width="1.3" />
<line x1="622.17" y1="747.00" x2="636.17" y2="747.00" stroke="#1e1e1e" stroke-width="1.3" />
<line x1="640.60" y1="734.40" x2="640.60" y2="747.00" stroke="#1e1e1e" stroke-width="1.3" />
<line x1="640.60" y1="747.00" x2="654.60" y2="747.00" stroke="#1e1e1e" stroke-width="1.3" />
<line x1="659.03" y1="734.40" x2="659.03" y2="747.00" stroke="#1e1e1e" stroke-width="1.3" />
<line x1="659.03" y1="747.00" x2="673.03" y2="747.00" stroke="#1e1e1e" stroke-width="1.3" />
<line x1="677.46" y1="734.40" x2="677.46" y2="747.00" stroke="#1e1e1e" stroke-width="1.3" />
<line x1="677.46" y1="747.00" x2="691.46" y2="747.00" stroke="#1e1e1e" stroke-width="1.3" />
<line x1="695.89" y1="734.40" x2="695.89" y2="747.00" stroke="#1e1e1e" stroke-width="1.3" />
<line x1="695.89" y1="747.00" x2="709.89" y2="747.00" stroke="#1e1e1e" stroke-width="1.3" />
<line x1="714.32" y1="734.40" x2="714.32" y2="747.00" stroke="#1e1e1e" stroke-width="1.3" />
<line x1="714.32" y1="747.00" x2="728.32" y2="747.00" stroke="#1e1e1e" stroke-width="1.3" />
<line x1="732.75" y1="734.40" x2="732.75" y2="747.00" stroke="#1e1e1e" stroke-width="1.3" />
<line x1="732.75" y1="747.00" x2="746.75" y2="747.00" stroke="#1e1e1e" stroke-width="1.3" />
<line x1="751.18" y1="734.40" x2="751.18" y2="747.00" stroke="#1e1e1e" stroke-width="1.3" />
<line x1="751.18" y1="747.00" x2="765.18" y2="747.00" stroke="#1e1e1e" stroke-width="1.3" />
<line x1="769.61" y1="734.40" x2="769.61" y2="747.00" stroke="#1e1e1e" stroke-width="1.3" />
<line x1="769.61" y1="747.00" x2="783.61" y2="747.00" stroke="#1e1e1e" stroke-width="1.3" />
<line x1="788.04" y1="734.40" x2="788.04" y2="747.00" stroke="#1e1e1e" stroke-width="1.3" />
<line x1="788.04" y1="747.00" x2="802.04" y2="747.00" stroke="#1e1e1e" stroke-width="1.3" />
<line x1="806.47" y1="734.40" x2="806.47" y2="747.00" stroke="#1e1e1e" stroke-width="1.3" />
<line x1="806.47" y1="747.00" x2="820.47" y2="747.00" stroke="#1e1e1e" stroke-width="1.3" />
<line x1="824.90" y1="734.40" x2="824.90" y2="747.00" stroke="#1e1e1e" stroke-width="1.3" />
<line x1="824.90" y1="747.00" x2="838.90" y2="747.00" stroke="#1e1e1e" stroke-width="1.3" />
<line x1="843.33" y1="734.40" x2="843.33" y2="747.00" stroke="#1e1e1e" stroke-width="1.3" />
<line x1="843.33" y1="747.00" x2="843.00" y2="747.00" stroke="#1e1e1e" stroke-width="1.3" />
<line x1="511.59" y1="752.00" x2="511.59" y2="764.50" stroke="#1e1e1e" stroke-width="1.3" />
<line x1="530.02" y1="752.00" x2="530.02" y2="764.50" stroke="#1e1e1e" stroke-width="1.3" />
<line x1="548.45" y1="752.00" x2="548.45" y2="764.50" stroke="#1e1e1e" stroke-width="1.3" />
<line x1="566.88" y1="752.00" x2="566.88" y2="764.50" stroke="#1e1e1e" stroke-width="1.3" />
<line x1="585.31" y1="752.00" x2="585.31" y2="764.50" stroke="#1e1e1e" stroke-width="1.3" />
<line x1="603.74" y1="752.00" x2="603.74" y2="764.50" stroke="#1e1e1e" stroke-width="1.3" />
<line x1="622.17" y1="752.00" x2="622.17" y2="764.50" stroke="#1e1e1e" stroke-width="1.3" />
<line x1="640.60" y1="752.00" x2="640.60" y2="764.50" stroke="#1e1e1e" stroke-width="1.3" />
<line x1="659.03" y1="752.00" x2="659.03" y2="764.50" stroke="#1e1e1e" stroke-width="1.3" />
<line x1="677.46" y1="752.00" x2="677.46" y2="764.50" stroke="#1e1e1e" stroke-width="1.3" />
<line x1="695.89" y1="752.00" x2="695.89" y2="764.50" stroke="#1e1e1e" stroke-width="1.3" />
<line x1="714.32" y1="752.00" x2="714.32" y2="764.50" stroke="#1e1e1e" stroke-width="1.3" />
<line x1="732.75" y1="752.00" x2="732.75" y2="764.50" stroke="#1e1e1e" stroke-width="1.3" />
<line x1="751.18" y1="752.00" x2="751.18" y2="764.50" stroke="#1e1e1e" stroke-width="1.3" />
<line x1="769.61" y1="752.00" x2="769.61" y2="764.50" stroke="#1e1e1e" stroke-width="1.3" />
<line x1="788.04" y1="752.00" x2="788.04" y2="764.50" stroke="#1e1e1e" stroke-width="1.3" />
<line x1="806.47" y1="752.00" x2="806.47" y2="764.50" stroke="#1e1e1e" stroke-width="1.3" />
<line x1="824.90" y1="752.00" x2="824.90" y2="764.50" stroke="#1e1e1e" stroke-width="1.3" />
<line x1="843.33" y1="752.00" x2="843.33" y2="764.50" stroke="#1e1e1e" stroke-width="1.3" />
<line x1="492.50" y1="758.25" x2="856.75" y2="758.25" stroke="#1e1e1e" stroke-width="1.3" />
<line x1="492.50" y1="764.25" x2="856.75" y2="764.25" stroke="#1e1e1e" stroke-width="1.3" />
<rect x="505.00" y="700.00" width="66.40" height="20.50" rx="0" fill="#fff" stroke="#1e1e1e" stroke-width="1.3" />
<text x="531.40" y="714.00" font-size="9.8" textLength="18.60" lengthAdjust="spacingAndGlyphs" fill="#1e1e1e" font-weight="bold" >Α/Θ</text>
<rect x="757.00" y="707.00" width="23.50" height="16.25" rx="0" fill="#fff" stroke="#1e1e1e" stroke-width="1.3" />
<line x1="757.00" y1="715.00" x2="780.50" y2="715.00" stroke="#1e1e1e" stroke-width="1.0" />
<text x="759.50" y="713.80" font-size="6.3" textLength="18.50" lengthAdjust="spacingAndGlyphs" fill="#1e1e1e" font-weight="bold" stroke="#1e1e1e" stroke-width="0.35">1,00</text>
<text x="759.50" y="721.80" font-size="6.3" textLength="18.50" lengthAdjust="spacingAndGlyphs" fill="#1e1e1e" font-weight="bold" stroke="#1e1e1e" stroke-width="0.35">2,40</text>
<rect x="656" y="753.5" width="20" height="9.6" fill="#fff"/>
<text x="658.75" y="761.40" font-size="8.5" textLength="15.00" lengthAdjust="spacingAndGlyphs" fill="#1e1e1e" font-weight="bold" stroke="#1e1e1e" stroke-width="0.3">7,00</text>
<line x1="843.00" y1="688.00" x2="843.00" y2="768.00" stroke="#1e1e1e" stroke-width="1.1" />
<text transform="translate(845.60,729.50) rotate(-90)" font-size="8.5" textLength="10.00" lengthAdjust="spacingAndGlyphs" fill="#1e1e1e" font-weight="bold" stroke="#1e1e1e" stroke-width="0.3">1,50</text>
<line x1="492.50" y1="690.75" x2="492.50" y2="768.00" stroke="#1e1e1e" stroke-width="1.3" />
<line x1="497.25" y1="690.75" x2="497.25" y2="768.00" stroke="#1e1e1e" stroke-width="1.2" />
<line x1="503.00" y1="690.75" x2="503.00" y2="722.00" stroke="#1e1e1e" stroke-width="1.1" />
<line x1="503.00" y1="738.50" x2="503.00" y2="768.00" stroke="#1e1e1e" stroke-width="1.1" />
<text transform="translate(506.00,737.60) rotate(-90)" font-size="8.5" textLength="14.60" lengthAdjust="spacingAndGlyphs" fill="#1e1e1e" font-weight="bold" stroke="#1e1e1e" stroke-width="0.3">1,50</text>
<line x1="497.25" y1="710.00" x2="503.75" y2="710.00" stroke="#1e1e1e" stroke-width="1.0" />
<line x1="666.25" y1="560.50" x2="666.25" y2="612.90" stroke="#1e1e1e" stroke-width="1.3" />
<rect x="666.25" y="611.00" width="13.15" height="1.90" rx="0" fill="#1e1e1e" stroke="#1e1e1e" stroke-width="1.0" />
<rect x="679.50" y="474.75" width="26.25" height="133.75" rx="0" fill="none" stroke="#1e1e1e" stroke-width="1.25" />
<rect x="689.00" y="496.00" width="3.60" height="88.75" rx="0" fill="none" stroke="#1e1e1e" stroke-width="1.0" />
<rect x="683.5" y="589.6" width="7.5" height="16.6" fill="#fff"/>
<text transform="translate(690.40,605.40) rotate(-90)" font-size="8.5" textLength="15.00" lengthAdjust="spacingAndGlyphs" fill="#1e1e1e" font-weight="bold" stroke="#1e1e1e" stroke-width="0.3">1,00</text>
<path d="M679.4,613 A46,46 0 0 1 725.4,659" fill="none" stroke="#1e1e1e" stroke-width="1.2" />
<line x1="677.00" y1="660.20" x2="725.00" y2="660.20" stroke="#555" stroke-width="3.4" />
<circle cx="681.25" cy="636.40" r="11.80" fill="none" stroke="#1e1e1e" stroke-width="1.2"/>
<line x1="669.45" y1="636.40" x2="693.05" y2="636.40" stroke="#1e1e1e" stroke-width="1.0" />
<text x="673.85" y="635.40" font-size="7.6" textLength="14.80" lengthAdjust="spacingAndGlyphs" fill="#1e1e1e" font-weight="bold" stroke="#1e1e1e" stroke-width="0.3">1,00</text>
<text x="673.85" y="643.60" font-size="7.6" textLength="14.80" lengthAdjust="spacingAndGlyphs" fill="#1e1e1e" font-weight="bold" stroke="#1e1e1e" stroke-width="0.3">2,20</text>
<rect x="665.60" y="661.00" width="13.80" height="5.00" rx="0" fill="none" stroke="#1e1e1e" stroke-width="1.2" />
<clipPath id="hc5"><polygon points="657.50,668.50 680.00,668.50 680.00,689.50 657.50,689.50"/></clipPath>
<polygon points="657.50,668.50 680.00,668.50 680.00,689.50 657.50,689.50" fill="url(#hp)" stroke="none"/>
<polygon points="657.50,668.50 680.00,668.50 680.00,689.50 657.50,689.50" fill="url(#hp2)" stroke="none"/>
<polygon points="657.50,668.50 680.00,668.50 680.00,689.50 657.50,689.50" fill="none" stroke="#111" stroke-width="1.9"/>
<line x1="685.00" y1="672.00" x2="685.00" y2="691.00" stroke="#1e1e1e" stroke-width="1.2" />
<line x1="420.50" y1="666.60" x2="520.60" y2="666.60" stroke="#1e1e1e" stroke-width="1.2" />
<line x1="546.25" y1="666.60" x2="665.00" y2="666.60" stroke="#1e1e1e" stroke-width="1.2" />
<text x="526.25" y="669.60" font-size="8.5" textLength="15.00" lengthAdjust="spacingAndGlyphs" fill="#1e1e1e" font-weight="bold" stroke="#1e1e1e" stroke-width="0.3">4,46</text>
<line x1="407.75" y1="674.40" x2="657.50" y2="674.40" stroke="#1e1e1e" stroke-width="1.3" />
<line x1="402.00" y1="690.75" x2="685.00" y2="690.75" stroke="#1e1e1e" stroke-width="1.3" />
<line x1="402.25" y1="695.20" x2="687.50" y2="695.20" stroke="#1e1e1e" stroke-width="1.2" />
<clipPath id="hc6"><polygon points="574.00,444.50 679.00,444.50 679.00,460.50 574.00,460.50"/></clipPath>
<polygon points="574.00,444.50 679.00,444.50 679.00,460.50 574.00,460.50" fill="url(#hp)" stroke="none"/>
<polygon points="574.00,444.50 679.00,444.50 679.00,460.50 574.00,460.50" fill="url(#hp2)" stroke="none"/>
<polygon points="574.00,444.50 679.00,444.50 679.00,460.50 574.00,460.50" fill="none" stroke="#111" stroke-width="1.9"/>
<line x1="592.10" y1="472.00" x2="592.10" y2="557.00" stroke="#555" stroke-width="2.0" />
<line x1="662.10" y1="472.00" x2="662.10" y2="557.00" stroke="#555" stroke-width="2.0" />
<line x1="665.90" y1="460.50" x2="665.90" y2="560.50" stroke="#1e1e1e" stroke-width="1.3" />
<line x1="592.00" y1="472.00" x2="662.00" y2="472.00" stroke="#1e1e1e" stroke-width="1.2" />
<line x1="597.75" y1="477.00" x2="657.00" y2="477.00" stroke="#1e1e1e" stroke-width="1.1" />
<line x1="597.75" y1="482.00" x2="657.00" y2="482.00" stroke="#1e1e1e" stroke-width="1.1" />
<rect x="597.75" y="477.00" width="2.25" height="5.00" rx="0" fill="none" stroke="#1e1e1e" stroke-width="0.9" />
<rect x="654.60" y="477.00" width="2.40" height="5.00" rx="0" fill="none" stroke="#1e1e1e" stroke-width="0.9" />
<line x1="594.00" y1="487.00" x2="659.00" y2="487.00" stroke="#222" stroke-width="2.2" />
<rect x="595.90" y="488.00" width="61.85" height="65.00" rx="0" fill="none" stroke="#1e1e1e" stroke-width="1.4" />
<polygon points="591.00,558.20 594.50,553.40 659.00,553.40 662.60,558.20" fill="#707070" stroke="#1e1e1e" stroke-width="0.8" />
<line x1="587.00" y1="462.00" x2="659.60" y2="553.60" stroke="#1e1e1e" stroke-width="1.1" />
<line x1="666.00" y1="463.00" x2="594.00" y2="553.60" stroke="#1e1e1e" stroke-width="1.1" />
<text x="609.60" y="518.80" font-size="11.2" textLength="20.40" lengthAdjust="spacingAndGlyphs" fill="#1e1e1e" stroke="#1e1e1e" stroke-width="0.25">LIFT</text>
<line x1="587.00" y1="466.40" x2="615.00" y2="466.40" stroke="#1e1e1e" stroke-width="1.1" />
<line x1="642.75" y1="466.40" x2="666.50" y2="466.40" stroke="#1e1e1e" stroke-width="1.1" />
<text x="622.00" y="469.40" font-size="8.5" textLength="14.50" lengthAdjust="spacingAndGlyphs" fill="#1e1e1e" font-weight="bold" stroke="#1e1e1e" stroke-width="0.3">1,50</text>
<circle cx="587.10" cy="466.40" r="1.06" fill="#1e1e1e"/>
<line x1="585.80" y1="467.18" x2="588.40" y2="465.62" stroke="#1e1e1e" stroke-width="1.3" />
<circle cx="665.90" cy="466.40" r="1.06" fill="#1e1e1e"/>
<line x1="664.60" y1="467.18" x2="667.20" y2="465.62" stroke="#1e1e1e" stroke-width="1.3" />
<line x1="652.75" y1="460.50" x2="652.75" y2="500.50" stroke="#1e1e1e" stroke-width="1.1" />
<line x1="652.75" y1="517.40" x2="652.75" y2="560.50" stroke="#1e1e1e" stroke-width="1.1" />
<text transform="translate(655.60,516.00) rotate(-90)" font-size="8.5" textLength="13.60" lengthAdjust="spacingAndGlyphs" fill="#1e1e1e" font-weight="bold" stroke="#1e1e1e" stroke-width="0.3">1,90</text>
<circle cx="652.75" cy="560.50" r="1.06" fill="#1e1e1e"/>
<line x1="651.45" y1="561.28" x2="654.05" y2="559.72" stroke="#1e1e1e" stroke-width="1.3" />
<line x1="587.00" y1="560.50" x2="597.75" y2="560.50" stroke="#1e1e1e" stroke-width="1.3" />
<line x1="597.75" y1="560.50" x2="597.75" y2="566.00" stroke="#1e1e1e" stroke-width="1.3" />
<line x1="647.75" y1="560.50" x2="666.00" y2="560.50" stroke="#1e1e1e" stroke-width="1.3" />
<line x1="647.75" y1="560.50" x2="647.75" y2="566.00" stroke="#1e1e1e" stroke-width="1.3" />
<rect x="643.30" y="561.00" width="3.70" height="50.40" rx="0" fill="#7a7a7a" stroke="#1e1e1e" stroke-width="1.0" />
<line x1="574.00" y1="566.10" x2="597.75" y2="566.10" stroke="#1e1e1e" stroke-width="1.3" />
<line x1="647.75" y1="566.10" x2="666.00" y2="566.10" stroke="#1e1e1e" stroke-width="1.3" />
<line x1="597.75" y1="566.00" x2="647.75" y2="566.00" stroke="#1e1e1e" stroke-width="1.3" stroke-dasharray="2.2 2.8"/>
<line x1="574.00" y1="571.50" x2="602.75" y2="571.50" stroke="#1e1e1e" stroke-width="1.2" />
<line x1="626.00" y1="571.50" x2="667.00" y2="571.50" stroke="#1e1e1e" stroke-width="1.2" />
<text x="607.75" y="574.50" font-size="8.5" textLength="13.25" lengthAdjust="spacingAndGlyphs" fill="#1e1e1e" font-weight="bold" stroke="#1e1e1e" stroke-width="0.3">1,76</text>
<circle cx="574.00" cy="571.50" r="1.06" fill="#1e1e1e"/>
<line x1="572.70" y1="572.28" x2="575.30" y2="570.72" stroke="#1e1e1e" stroke-width="1.3" />
<circle cx="666.00" cy="571.50" r="1.06" fill="#1e1e1e"/>
<line x1="664.70" y1="572.28" x2="667.30" y2="570.72" stroke="#1e1e1e" stroke-width="1.3" />
<line x1="594.60" y1="566.00" x2="594.60" y2="608.50" stroke="#1e1e1e" stroke-width="1.2" stroke-dasharray="2.2 2.6"/>
<line x1="594.60" y1="608.50" x2="663.75" y2="608.50" stroke="#1e1e1e" stroke-width="1.2" stroke-dasharray="2.2 2.6"/>
<line x1="663.75" y1="566.00" x2="663.75" y2="608.50" stroke="#1e1e1e" stroke-width="1.2" stroke-dasharray="2.2 2.6"/>
<path d="M599,566 A46,46 0 0 0 645,612" fill="none" stroke="#1e1e1e" stroke-width="1.2" />
<text x="599.40" y="609.30" font-size="7.8" textLength="16.85" lengthAdjust="spacingAndGlyphs" fill="#1e1e1e" font-weight="bold" stroke="#1e1e1e" stroke-width="0.3">ΑΝΕΛ.</text>
<line x1="402.00" y1="510.60" x2="573.75" y2="510.60" stroke="#1e1e1e" stroke-width="1.3" />
<line x1="407.00" y1="515.75" x2="573.75" y2="515.75" stroke="#1e1e1e" stroke-width="1.3" />
<line x1="573.75" y1="500.00" x2="573.75" y2="515.75" stroke="#1e1e1e" stroke-width="1.3" />
<circle cx="567.90" cy="509.10" r="4.80" fill="none" stroke="#1e1e1e" stroke-width="1.2"/>
<text x="554.40" y="501.00" font-size="9.8" textLength="5.80" lengthAdjust="spacingAndGlyphs" fill="#1e1e1e" >Ζ</text>
<polygon points="518.40,498.80 524.40,492.00 530.40,498.80 524.40,505.60" fill="#1e1e1e" stroke="#1e1e1e" stroke-width="0.8" />
<polygon points="521.10,498.80 524.40,498.12 524.40,502.54" fill="#eee" stroke="none" stroke-width="0" />
<text x="532.00" y="498.00" font-size="6.3" textLength="19.00" lengthAdjust="spacingAndGlyphs" fill="#1e1e1e" font-weight="bold" stroke="#1e1e1e" stroke-width="0.35">+0.00</text>
<text x="532.00" y="504.00" font-size="6.3" textLength="19.00" lengthAdjust="spacingAndGlyphs" fill="#1e1e1e" font-weight="bold" stroke="#1e1e1e" stroke-width="0.35">127.18</text>
<line x1="402.00" y1="510.75" x2="402.00" y2="544.00" stroke="#1e1e1e" stroke-width="1.3" />
<rect x="400.25" y="544.75" width="20.00" height="42.50" rx="2" fill="none" stroke="#1e1e1e" stroke-width="1.2" />
<line x1="402.50" y1="587.25" x2="402.50" y2="695.00" stroke="#1e1e1e" stroke-width="1.3" />
<line x1="407.75" y1="587.25" x2="407.75" y2="690.00" stroke="#1e1e1e" stroke-width="1.2" />
<clipPath id="hc7"><polygon points="407.00,515.75 429.00,515.75 429.00,538.00 407.00,538.00"/></clipPath>
<polygon points="407.00,515.75 429.00,515.75 429.00,538.00 407.00,538.00" fill="url(#hp)" stroke="none"/>
<polygon points="407.00,515.75 429.00,515.75 429.00,538.00 407.00,538.00" fill="url(#hp2)" stroke="none"/>
<polygon points="407.00,515.75 429.00,515.75 429.00,538.00 407.00,538.00" fill="none" stroke="#111" stroke-width="1.9"/>
<line x1="429.00" y1="528.75" x2="586.25" y2="528.75" stroke="#1e1e1e" stroke-width="1.3" />
<line x1="432.75" y1="528.75" x2="432.75" y2="674.00" stroke="#1e1e1e" stroke-width="1.25" />
<line x1="420.25" y1="544.50" x2="484.00" y2="544.50" stroke="#1e1e1e" stroke-width="1.1" />
<line x1="505.00" y1="544.50" x2="575.00" y2="544.50" stroke="#1e1e1e" stroke-width="1.1" />
<text x="487.00" y="547.50" font-size="8.5" textLength="15.75" lengthAdjust="spacingAndGlyphs" fill="#1e1e1e" font-weight="bold" stroke="#1e1e1e" stroke-width="0.3">2,90</text>
<line x1="415.25" y1="546.00" x2="415.25" y2="584.75" stroke="#1e1e1e" stroke-width="1.0" />
<line x1="417.75" y1="546.00" x2="417.75" y2="584.75" stroke="#1e1e1e" stroke-width="1.0" />
<line x1="420.40" y1="538.50" x2="420.40" y2="674.00" stroke="#1e1e1e" stroke-width="1.3" />
<rect x="413.00" y="541.00" width="7.40" height="5.00" rx="0" fill="#777" stroke="#1e1e1e" stroke-width="0.9" />
<rect x="413.00" y="584.75" width="7.40" height="3.75" rx="0" fill="#777" stroke="#1e1e1e" stroke-width="0.9" />
<line x1="573.75" y1="528.75" x2="573.75" y2="610.75" stroke="#1e1e1e" stroke-width="1.3" />
<line x1="565.60" y1="528.75" x2="565.60" y2="537.00" stroke="#1e1e1e" stroke-width="1.1" />
<line x1="565.60" y1="555.00" x2="565.60" y2="610.75" stroke="#1e1e1e" stroke-width="1.1" />
<text transform="translate(568.50,554.00) rotate(-90)" font-size="8.5" textLength="15.50" lengthAdjust="spacingAndGlyphs" fill="#1e1e1e" font-weight="bold" stroke="#1e1e1e" stroke-width="0.3">0,70</text>
<circle cx="565.60" cy="528.75" r="1.06" fill="#1e1e1e"/>
<line x1="564.30" y1="529.53" x2="566.90" y2="527.97" stroke="#1e1e1e" stroke-width="1.3" />
<circle cx="565.60" cy="561.00" r="1.06" fill="#1e1e1e"/>
<line x1="564.30" y1="561.78" x2="566.90" y2="560.22" stroke="#1e1e1e" stroke-width="1.3" />
<line x1="565.60" y1="635.00" x2="565.60" y2="675.00" stroke="#1e1e1e" stroke-width="1.1" />
<text transform="translate(568.50,631.40) rotate(-90)" font-size="8.5" textLength="15.00" lengthAdjust="spacingAndGlyphs" fill="#1e1e1e" font-weight="bold" stroke="#1e1e1e" stroke-width="0.3">2,35</text>
<circle cx="565.60" cy="610.75" r="1.06" fill="#1e1e1e"/>
<line x1="564.30" y1="611.53" x2="566.90" y2="609.97" stroke="#1e1e1e" stroke-width="1.3" />
<circle cx="565.60" cy="674.50" r="1.06" fill="#1e1e1e"/>
<line x1="564.30" y1="675.28" x2="566.90" y2="673.72" stroke="#1e1e1e" stroke-width="1.3" />
<rect x="484.20" y="592.60" width="25.90" height="18.00" rx="0" fill="none" stroke="#1e1e1e" stroke-width="1.3" />
<line x1="510.00" y1="610.60" x2="510.00" y2="674.50" stroke="#1e1e1e" stroke-width="1.25" />
<line x1="510.00" y1="610.75" x2="573.75" y2="610.75" stroke="#1e1e1e" stroke-width="1.3" />
<line x1="427.00" y1="538.00" x2="484.00" y2="592.00" stroke="#1e1e1e" stroke-width="1.15" />
<line x1="455.90" y1="528.75" x2="490.25" y2="592.00" stroke="#1e1e1e" stroke-width="1.15" />
<line x1="482.00" y1="528.75" x2="495.25" y2="592.00" stroke="#1e1e1e" stroke-width="1.15" />
<line x1="507.00" y1="528.75" x2="500.25" y2="592.00" stroke="#1e1e1e" stroke-width="1.15" />
<line x1="420.40" y1="566.00" x2="471.50" y2="592.00" stroke="#1e1e1e" stroke-width="1.15" />
<line x1="531.90" y1="528.75" x2="506.90" y2="592.00" stroke="#1e1e1e" stroke-width="1.15" />
<line x1="565.00" y1="528.75" x2="513.00" y2="592.00" stroke="#1e1e1e" stroke-width="1.15" />
<line x1="573.75" y1="559.75" x2="523.75" y2="592.00" stroke="#1e1e1e" stroke-width="1.15" />
<line x1="573.75" y1="586.60" x2="553.75" y2="592.00" stroke="#1e1e1e" stroke-width="1.15" />
<line x1="471.50" y1="592.00" x2="484.00" y2="598.20" stroke="#1e1e1e" stroke-width="1.15" />
<line x1="523.75" y1="592.00" x2="510.00" y2="599.60" stroke="#1e1e1e" stroke-width="1.15" />
<line x1="553.75" y1="592.00" x2="510.00" y2="604.60" stroke="#1e1e1e" stroke-width="1.15" />
<line x1="513.00" y1="592.00" x2="510.00" y2="595.40" stroke="#1e1e1e" stroke-width="1.15" />
<line x1="420.50" y1="592.00" x2="484.00" y2="604.50" stroke="#1e1e1e" stroke-width="1.15" />
<line x1="420.50" y1="616.40" x2="484.00" y2="610.00" stroke="#1e1e1e" stroke-width="1.15" />
<line x1="420.50" y1="645.75" x2="486.50" y2="610.75" stroke="#1e1e1e" stroke-width="1.15" />
<line x1="434.60" y1="674.00" x2="492.75" y2="610.75" stroke="#1e1e1e" stroke-width="1.15" />
<line x1="465.25" y1="674.00" x2="498.40" y2="610.75" stroke="#1e1e1e" stroke-width="1.15" />
<line x1="490.25" y1="674.00" x2="504.00" y2="610.75" stroke="#1e1e1e" stroke-width="1.15" />
<path d="M542.5,611 V592 A29,31 0 0 0 513.75,561 H482.75 A30.2,31 0 0 0 452.5,592 V613 A30.2,29.6 0 0 0 482.75,642.6 H510" fill="none" stroke="#1e1e1e" stroke-width="1.2" />
<circle cx="542.50" cy="611.40" r="1.22" fill="#1e1e1e"/>
<line x1="541.00" y1="612.30" x2="544.00" y2="610.50" stroke="#1e1e1e" stroke-width="1.3" />
<line x1="507.00" y1="639.50" x2="513.75" y2="639.50" stroke="#1e1e1e" stroke-width="1.0" />
<line x1="507.00" y1="645.75" x2="513.75" y2="645.75" stroke="#1e1e1e" stroke-width="1.0" />
<clipPath id="hc8"><polygon points="407.50,674.25 512.50,674.25 512.50,690.00 407.50,690.00"/></clipPath>
<polygon points="407.50,674.25 512.50,674.25 512.50,690.00 407.50,690.00" fill="url(#hp)" stroke="none"/>
<polygon points="407.50,674.25 512.50,674.25 512.50,690.00 407.50,690.00" fill="url(#hp2)" stroke="none"/>
<polygon points="407.50,674.25 512.50,674.25 512.50,690.00 407.50,690.00" fill="none" stroke="#111" stroke-width="1.9"/>
<text transform="translate(435.60,612.00) rotate(-90)" font-size="8.5" textLength="14.40" lengthAdjust="spacingAndGlyphs" fill="#1e1e1e" font-weight="bold" stroke="#1e1e1e" stroke-width="0.3">2,75</text>
<line x1="381.75" y1="514.00" x2="381.75" y2="596.00" stroke="#1e1e1e" stroke-width="1.1" />
<line x1="381.75" y1="614.50" x2="381.75" y2="689.75" stroke="#1e1e1e" stroke-width="1.1" />
<text transform="translate(384.70,613.50) rotate(-90)" font-size="8.5" textLength="16.50" lengthAdjust="spacingAndGlyphs" fill="#1e1e1e" font-weight="bold" stroke="#1e1e1e" stroke-width="0.3">3,30</text>
<circle cx="381.75" cy="516.00" r="1.06" fill="#1e1e1e"/>
<line x1="380.45" y1="516.78" x2="383.05" y2="515.22" stroke="#1e1e1e" stroke-width="1.3" />
<circle cx="381.75" cy="689.75" r="1.06" fill="#1e1e1e"/>
<line x1="380.45" y1="690.53" x2="383.05" y2="688.97" stroke="#1e1e1e" stroke-width="1.3" />
<line x1="392.20" y1="516.00" x2="392.20" y2="521.00" stroke="#1e1e1e" stroke-width="1.1" />
<line x1="392.20" y1="538.00" x2="392.20" y2="561.00" stroke="#1e1e1e" stroke-width="1.1" />
<line x1="392.20" y1="578.00" x2="392.20" y2="625.00" stroke="#1e1e1e" stroke-width="1.1" />
<line x1="392.20" y1="641.00" x2="392.20" y2="689.75" stroke="#1e1e1e" stroke-width="1.1" />
<text transform="translate(395.20,536.60) rotate(-90)" font-size="8.5" textLength="14.10" lengthAdjust="spacingAndGlyphs" fill="#1e1e1e" font-weight="bold" stroke="#1e1e1e" stroke-width="0.3">0,50</text>
<text transform="translate(395.20,576.60) rotate(-90)" font-size="8.5" textLength="14.10" lengthAdjust="spacingAndGlyphs" fill="#1e1e1e" font-weight="bold" stroke="#1e1e1e" stroke-width="0.3">0,80</text>
<text transform="translate(395.20,640.00) rotate(-90)" font-size="8.5" textLength="14.00" lengthAdjust="spacingAndGlyphs" fill="#1e1e1e" font-weight="bold" stroke="#1e1e1e" stroke-width="0.3">1,30</text>
<circle cx="392.20" cy="516.00" r="1.06" fill="#1e1e1e"/>
<line x1="390.90" y1="516.78" x2="393.50" y2="515.22" stroke="#1e1e1e" stroke-width="1.3" />
<circle cx="392.20" cy="542.25" r="1.06" fill="#1e1e1e"/>
<line x1="390.90" y1="543.03" x2="393.50" y2="541.47" stroke="#1e1e1e" stroke-width="1.3" />
<circle cx="392.20" cy="588.50" r="1.06" fill="#1e1e1e"/>
<line x1="390.90" y1="589.28" x2="393.50" y2="587.72" stroke="#1e1e1e" stroke-width="1.3" />
<circle cx="392.20" cy="689.75" r="1.06" fill="#1e1e1e"/>
<line x1="390.90" y1="690.53" x2="393.50" y2="688.97" stroke="#1e1e1e" stroke-width="1.3" />
<rect x="347.00" y="560.25" width="26.60" height="16.35" rx="0" fill="none" stroke="#1e1e1e" stroke-width="1.3" />
<line x1="347.00" y1="568.42" x2="373.60" y2="568.42" stroke="#1e1e1e" stroke-width="1.0" />
<text x="350.00" y="567.32" font-size="7.4" textLength="20.60" lengthAdjust="spacingAndGlyphs" fill="#1e1e1e" font-weight="bold" stroke="#1e1e1e" stroke-width="0.3">0,90</text>
<rect x="348.20" y="569.62" width="24.20" height="5.77" rx="0" fill="#444" stroke="none" stroke-width="0" />
<text x="349.00" y="575.00" font-size="6.4" textLength="22.60" lengthAdjust="spacingAndGlyphs" fill="#ddd" font-weight="bold" >1,40|0,60</text>
<text x="536.25" y="651.50" font-size="11.2" textLength="63.75" lengthAdjust="spacingAndGlyphs" fill="#1e1e1e" stroke="#1e1e1e" stroke-width="0.25">Εн=00.00m2</text>
<polygon points="550.90,662.60 556.90,655.80 562.90,662.60 556.90,669.40" fill="#1e1e1e" stroke="#1e1e1e" stroke-width="0.8" />
<polygon points="553.60,662.60 556.90,661.92 556.90,666.34" fill="#eee" stroke="none" stroke-width="0" />
<text x="566.00" y="661.20" font-size="5.8" textLength="11.00" lengthAdjust="spacingAndGlyphs" fill="#1e1e1e" font-weight="bold" >0,00</text>
<text x="566.00" y="667.40" font-size="5.8" textLength="11.00" lengthAdjust="spacingAndGlyphs" fill="#1e1e1e" font-weight="bold" >2,20</text>
<line x1="565.00" y1="662.00" x2="583.75" y2="662.00" stroke="#1e1e1e" stroke-width="0.8" />
<line x1="11.75" y1="504.60" x2="138.00" y2="504.60" stroke="#1e1e1e" stroke-width="1.3" />
<line x1="11.75" y1="504.60" x2="11.75" y2="714.75" stroke="#1e1e1e" stroke-width="1.3" />
<line x1="0.00" y1="714.75" x2="138.00" y2="714.75" stroke="#1e1e1e" stroke-width="1.3" />
<circle cx="143.00" cy="504.75" r="5.20" fill="none" stroke="#1e1e1e" stroke-width="1.2"/>
<circle cx="143.00" cy="714.75" r="5.20" fill="none" stroke="#1e1e1e" stroke-width="1.2"/>
<line x1="148.00" y1="504.75" x2="157.50" y2="504.75" stroke="#1e1e1e" stroke-width="1.2" />
<line x1="170.20" y1="505.40" x2="172.00" y2="505.40" stroke="#1e1e1e" stroke-width="1.4" />
<line x1="148.00" y1="714.75" x2="172.50" y2="714.75" stroke="#1e1e1e" stroke-width="1.2" />
<text x="132.50" y="494.60" font-size="9.6" textLength="6.25" lengthAdjust="spacingAndGlyphs" fill="#1e1e1e" >E</text>
<polygon points="149.00,494.40 155.00,487.60 161.00,494.40 155.00,501.20" fill="#1e1e1e" stroke="#1e1e1e" stroke-width="0.8" />
<polygon points="151.70,494.40 155.00,493.72 155.00,498.14" fill="#eee" stroke="none" stroke-width="0" />
<text x="162.50" y="494.00" font-size="6.3" textLength="18.50" lengthAdjust="spacingAndGlyphs" fill="#1e1e1e" font-weight="bold" stroke="#1e1e1e" stroke-width="0.35">+0.86</text>
<text x="162.50" y="500.00" font-size="6.3" textLength="18.50" lengthAdjust="spacingAndGlyphs" fill="#1e1e1e" font-weight="bold" stroke="#1e1e1e" stroke-width="0.35">126.18</text>
<line x1="183.75" y1="505.60" x2="210.15" y2="505.60" stroke="#1e1e1e" stroke-width="1.2" />
<line x1="222.45" y1="505.60" x2="224.25" y2="505.60" stroke="#1e1e1e" stroke-width="1.4" />
<line x1="236.45" y1="505.92" x2="262.85" y2="505.92" stroke="#1e1e1e" stroke-width="1.2" />
<line x1="275.15" y1="505.92" x2="276.95" y2="505.92" stroke="#1e1e1e" stroke-width="1.4" />
<line x1="289.15" y1="506.24" x2="315.55" y2="506.24" stroke="#1e1e1e" stroke-width="1.2" />
<line x1="327.85" y1="506.24" x2="329.65" y2="506.24" stroke="#1e1e1e" stroke-width="1.4" />
<line x1="341.85" y1="506.56" x2="368.25" y2="506.56" stroke="#1e1e1e" stroke-width="1.2" />
<line x1="380.55" y1="506.56" x2="382.35" y2="506.56" stroke="#1e1e1e" stroke-width="1.4" />
<line x1="394.55" y1="506.88" x2="420.95" y2="506.88" stroke="#1e1e1e" stroke-width="1.2" />
<line x1="433.25" y1="506.88" x2="435.05" y2="506.88" stroke="#1e1e1e" stroke-width="1.4" />
<line x1="447.25" y1="507.20" x2="473.65" y2="507.20" stroke="#1e1e1e" stroke-width="1.2" />
<line x1="485.95" y1="507.20" x2="487.75" y2="507.20" stroke="#1e1e1e" stroke-width="1.4" />
<line x1="499.95" y1="507.52" x2="526.35" y2="507.52" stroke="#1e1e1e" stroke-width="1.2" />
<line x1="538.65" y1="507.52" x2="540.45" y2="507.52" stroke="#1e1e1e" stroke-width="1.4" />
<line x1="552.65" y1="507.84" x2="566.00" y2="507.84" stroke="#1e1e1e" stroke-width="1.2" />
<text x="308.50" y="504.00" font-size="16.6" textLength="81.25" lengthAdjust="spacingAndGlyphs" fill="#1e1e1e" >EZ=8.05m</text>
<line x1="143.00" y1="504.75" x2="143.00" y2="515.25" stroke="#1e1e1e" stroke-width="1.2" />
<line x1="143.00" y1="529.20" x2="143.00" y2="530.80" stroke="#1e1e1e" stroke-width="1.3" />
<line x1="143.00" y1="544.00" x2="143.00" y2="569.00" stroke="#1e1e1e" stroke-width="1.2" />
<line x1="143.00" y1="597.00" x2="143.00" y2="622.00" stroke="#1e1e1e" stroke-width="1.2" />
<line x1="143.00" y1="635.20" x2="143.00" y2="636.80" stroke="#1e1e1e" stroke-width="1.3" />
<line x1="143.00" y1="651.00" x2="143.00" y2="676.00" stroke="#1e1e1e" stroke-width="1.2" />
<line x1="143.00" y1="689.00" x2="143.00" y2="690.60" stroke="#1e1e1e" stroke-width="1.3" />
<line x1="143.00" y1="703.50" x2="143.00" y2="714.75" stroke="#1e1e1e" stroke-width="1.2" />
<text transform="translate(137.90,590.00) rotate(-90)" font-size="16.2" textLength="77.25" lengthAdjust="spacingAndGlyphs" fill="#1e1e1e">ΔΕ=4.00m</text>
<text x="22.50" y="609.75" font-size="17.6" textLength="107.00" lengthAdjust="spacingAndGlyphs" fill="#1e1e1e" >ΚΟΙΝ. ΧΩΡΟΣ</text>
<text x="65.50" y="624.75" font-size="16.4" textLength="20.50" lengthAdjust="spacingAndGlyphs" fill="#1e1e1e" >ΩΣ</text>
<text x="22.50" y="640.50" font-size="17.6" textLength="107.50" lengthAdjust="spacingAndGlyphs" fill="#1e1e1e" >ΠΑΡΕΧΩΡΗΘΗ</text>
<text x="16.25" y="712.60" font-size="17.6" textLength="75.00" lengthAdjust="spacingAndGlyphs" fill="#1e1e1e" >ΚΑΙ ΡΥΜ.</text>
<text x="0.50" y="712.60" font-size="17.6" textLength="3.00" lengthAdjust="spacingAndGlyphs" fill="#1e1e1e" >.</text>
<text x="-1.00" y="729.75" font-size="17.6" textLength="107.25" lengthAdjust="spacingAndGlyphs" fill="#1e1e1e" >ΜΗ ΤΟΥ Ο.Τ.</text>
<line x1="0.00" y1="744.75" x2="62.50" y2="744.75" stroke="#1e1e1e" stroke-width="1.3" />
<text x="148.75" y="731.00" font-size="9.8" textLength="7.50" lengthAdjust="spacingAndGlyphs" fill="#1e1e1e" >Δ</text>
<polygon points="129.00,739.75 135.00,732.95 141.00,739.75 135.00,746.55" fill="#1e1e1e" stroke="#1e1e1e" stroke-width="0.8" />
<polygon points="131.70,739.75 135.00,739.07 135.00,743.49" fill="#eee" stroke="none" stroke-width="0" />
<text x="141.00" y="738.60" font-size="6.3" textLength="21.50" lengthAdjust="spacingAndGlyphs" fill="#1e1e1e" font-weight="bold" stroke="#1e1e1e" stroke-width="0.35">+0.86</text>
<text x="141.00" y="744.60" font-size="6.3" textLength="21.50" lengthAdjust="spacingAndGlyphs" fill="#1e1e1e" font-weight="bold" stroke="#1e1e1e" stroke-width="0.35">126.18</text>
<line x1="198.75" y1="714.99" x2="225.75" y2="714.99" stroke="#1e1e1e" stroke-width="1.2" />
<line x1="184.25" y1="714.99" x2="186.05" y2="714.99" stroke="#1e1e1e" stroke-width="1.4" />
<line x1="252.50" y1="715.36" x2="279.50" y2="715.36" stroke="#1e1e1e" stroke-width="1.2" />
<line x1="238.00" y1="715.36" x2="239.80" y2="715.36" stroke="#1e1e1e" stroke-width="1.4" />
<line x1="304.50" y1="715.71" x2="331.50" y2="715.71" stroke="#1e1e1e" stroke-width="1.2" />
<line x1="290.00" y1="715.71" x2="291.80" y2="715.71" stroke="#1e1e1e" stroke-width="1.4" />
<line x1="357.25" y1="716.07" x2="384.25" y2="716.07" stroke="#1e1e1e" stroke-width="1.2" />
<line x1="342.75" y1="716.07" x2="344.55" y2="716.07" stroke="#1e1e1e" stroke-width="1.4" />
<line x1="409.50" y1="716.43" x2="436.50" y2="716.43" stroke="#1e1e1e" stroke-width="1.2" />
<line x1="395.00" y1="716.43" x2="396.80" y2="716.43" stroke="#1e1e1e" stroke-width="1.4" />
<line x1="463.50" y1="716.79" x2="490.50" y2="716.79" stroke="#1e1e1e" stroke-width="1.2" />
<line x1="449.00" y1="716.79" x2="450.80" y2="716.79" stroke="#1e1e1e" stroke-width="1.4" />
<text x="308.50" y="735.25" font-size="16.6" textLength="81.25" lengthAdjust="spacingAndGlyphs" fill="#1e1e1e" >ΓΔ=8.05m</text>
<line x1="408.30" y1="716.50" x2="408.30" y2="735.00" stroke="#1e1e1e" stroke-width="1.1" />
<line x1="408.30" y1="753.50" x2="408.30" y2="768.00" stroke="#1e1e1e" stroke-width="1.1" />
<text transform="translate(411.20,752.00) rotate(-90)" font-size="8.5" textLength="15.00" lengthAdjust="spacingAndGlyphs" fill="#1e1e1e" font-weight="bold" stroke="#1e1e1e" stroke-width="0.3">1,50</text>
<circle cx="408.30" cy="716.50" r="1.06" fill="#1e1e1e"/>
<line x1="407.00" y1="717.28" x2="409.60" y2="715.72" stroke="#1e1e1e" stroke-width="1.3" />
<text x="343.00" y="413.60" font-size="29" textLength="165.50" lengthAdjust="spacingAndGlyphs" fill="#1e1e1e" >Δ΄ ΟΡΟΦΟΣ</text>
<g opacity="0.03" fill="none" stroke="#000" stroke-width="2.5"><circle cx="352" cy="284" r="34"/><circle cx="352" cy="284" r="20"/><path d="M362,245 l-24,80 M316,275 l80,24"/></g>
<g opacity="0.035" fill="#000" font-size="16" font-weight="bold"><text x="358" y="242">N</text><text x="300" y="276">W</text><text x="394" y="304">E</text><text x="332" y="338">S</text></g>
</g>
</svg>
</body></html>
